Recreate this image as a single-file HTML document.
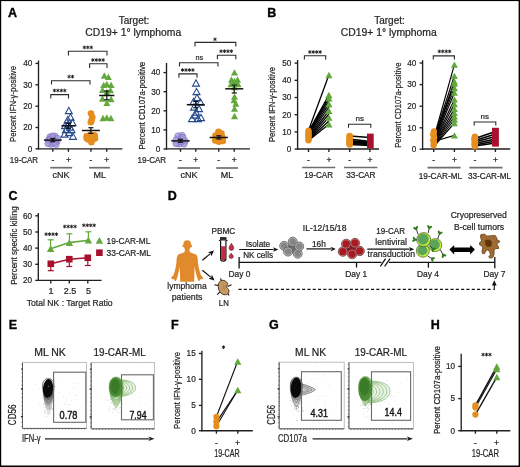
<!DOCTYPE html>
<html><head><meta charset="utf-8"><style>
html,body{margin:0;padding:0;background:#fff;}
svg{display:block;will-change:transform;}
text{font-family:"Liberation Sans", sans-serif;}
</style></head><body>
<svg width="520" height="467" viewBox="0 0 520 467">
<rect x="0" y="0" width="520" height="467" fill="#000"/>
<rect x="1.2" y="1.1" width="517.4" height="464.4" fill="#fff"/>
<text x="8" y="17" font-size="12.5" text-anchor="start" font-weight="bold" fill="#000" stroke="#000" stroke-width="0.35">A</text>
<text x="267.3" y="17" font-size="12.5" text-anchor="start" font-weight="bold" fill="#000" stroke="#000" stroke-width="0.35">B</text>
<text x="8.4" y="200.4" font-size="12.5" text-anchor="start" font-weight="bold" fill="#000" stroke="#000" stroke-width="0.35">C</text>
<text x="167.7" y="200.4" font-size="12.5" text-anchor="start" font-weight="bold" fill="#000" stroke="#000" stroke-width="0.35">D</text>
<text x="8.7" y="329" font-size="12.5" text-anchor="start" font-weight="bold" fill="#000" stroke="#000" stroke-width="0.35">E</text>
<text x="171.0" y="328.8" font-size="12.5" text-anchor="start" font-weight="bold" fill="#000" stroke="#000" stroke-width="0.35">F</text>
<text x="268.9" y="328.8" font-size="12.5" text-anchor="start" font-weight="bold" fill="#000" stroke="#000" stroke-width="0.35">G</text>
<text x="430.8" y="328.8" font-size="12.5" text-anchor="start" font-weight="bold" fill="#000" stroke="#000" stroke-width="0.35">H</text>
<text x="134" y="23.6" font-size="10" text-anchor="middle" font-weight="normal" fill="#231f20"  stroke="#231f20" stroke-width="0.22">Target:</text>
<text transform="translate(133.2,35.6) scale(1.0361,1)" x="0" y="0" font-size="10" text-anchor="middle" font-weight="normal" fill="#231f20"  stroke="#231f20" stroke-width="0.22">CD19+ 1° lymphoma</text>
<text x="389.5" y="23.6" font-size="10" text-anchor="middle" font-weight="normal" fill="#231f20"  stroke="#231f20" stroke-width="0.22">Target:</text>
<text transform="translate(388.7,35.6) scale(1.0361,1)" x="0" y="0" font-size="10" text-anchor="middle" font-weight="normal" fill="#231f20"  stroke="#231f20" stroke-width="0.22">CD19+ 1° lymphoma</text>
<line x1="38.5" y1="60.4" x2="38.5" y2="149.4" stroke="#231f20" stroke-width="1.35" />
<line x1="35.5" y1="63.4" x2="38.5" y2="63.4" stroke="#231f20" stroke-width="1.35" />
<text transform="translate(32.3,66.2) scale(0.9090,1)" x="0" y="0" font-size="9" text-anchor="end" font-weight="normal" fill="#231f20"  stroke="#231f20" stroke-width="0.22">40</text>
<line x1="35.5" y1="84.8" x2="38.5" y2="84.8" stroke="#231f20" stroke-width="1.35" />
<text transform="translate(32.3,87.6) scale(0.9090,1)" x="0" y="0" font-size="9" text-anchor="end" font-weight="normal" fill="#231f20"  stroke="#231f20" stroke-width="0.22">30</text>
<line x1="35.5" y1="106.2" x2="38.5" y2="106.2" stroke="#231f20" stroke-width="1.35" />
<text transform="translate(32.3,109.0) scale(0.9090,1)" x="0" y="0" font-size="9" text-anchor="end" font-weight="normal" fill="#231f20"  stroke="#231f20" stroke-width="0.22">20</text>
<line x1="35.5" y1="127.5" x2="38.5" y2="127.5" stroke="#231f20" stroke-width="1.35" />
<text transform="translate(32.3,130.3) scale(0.9090,1)" x="0" y="0" font-size="9" text-anchor="end" font-weight="normal" fill="#231f20"  stroke="#231f20" stroke-width="0.22">20</text>
<line x1="35.5" y1="148.8" x2="38.5" y2="148.8" stroke="#231f20" stroke-width="1.35" />
<text transform="translate(32.3,151.60000000000002) scale(0.9090,1)" x="0" y="0" font-size="9" text-anchor="end" font-weight="normal" fill="#231f20"  stroke="#231f20" stroke-width="0.22">0</text>
<line x1="37.9" y1="148.8" x2="122.4" y2="148.8" stroke="#231f20" stroke-width="1.35" />
<line x1="52.8" y1="148.8" x2="52.8" y2="151.8" stroke="#231f20" stroke-width="1.35" />
<line x1="68.4" y1="148.8" x2="68.4" y2="151.8" stroke="#231f20" stroke-width="1.35" />
<line x1="90.9" y1="148.8" x2="90.9" y2="151.8" stroke="#231f20" stroke-width="1.35" />
<line x1="106.8" y1="148.8" x2="106.8" y2="151.8" stroke="#231f20" stroke-width="1.35" />
<text x="52.8" y="163.2" font-size="8.5" text-anchor="middle" font-weight="normal" fill="#231f20"  stroke="#231f20" stroke-width="0.22">-</text>
<text x="68.4" y="163.2" font-size="8.5" text-anchor="middle" font-weight="normal" fill="#231f20"  stroke="#231f20" stroke-width="0.22">+</text>
<text x="90.9" y="163.2" font-size="8.5" text-anchor="middle" font-weight="normal" fill="#231f20"  stroke="#231f20" stroke-width="0.22">-</text>
<text x="106.8" y="163.2" font-size="8.5" text-anchor="middle" font-weight="normal" fill="#231f20"  stroke="#231f20" stroke-width="0.22">+</text>
<line x1="50.2" y1="167.7" x2="72.2" y2="167.7" stroke="#6e6e6e" stroke-width="1.7" />
<line x1="89" y1="167.7" x2="109.9" y2="167.7" stroke="#6e6e6e" stroke-width="1.7" />
<text x="61" y="178.1" font-size="9" text-anchor="middle" font-weight="normal" fill="#231f20"  stroke="#231f20" stroke-width="0.22">cNK</text>
<text x="99.7" y="178.1" font-size="9" text-anchor="middle" font-weight="normal" fill="#231f20"  stroke="#231f20" stroke-width="0.22">ML</text>
<text transform="translate(9.8,163.2) scale(0.8841,1)" x="0" y="0" font-size="9" text-anchor="start" font-weight="normal" fill="#231f20"  stroke="#231f20" stroke-width="0.22">19-CAR</text>
<text transform="translate(16,104) rotate(-90) scale(0.8537,1)" x="0" y="0" font-size="9" text-anchor="middle" fill="#231f20" stroke="#231f20" stroke-width="0.22">Percent IFN-γ-positive</text>
<circle cx="50.00" cy="137.00" r="3.2" fill="#a397d8" stroke="#7062bf" stroke-width="0.7" opacity="0.8"/>
<circle cx="55.00" cy="136.20" r="3.2" fill="#a397d8" stroke="#7062bf" stroke-width="0.7" opacity="0.8"/>
<circle cx="48.50" cy="140.50" r="3.2" fill="#a397d8" stroke="#7062bf" stroke-width="0.7" opacity="0.8"/>
<circle cx="53.00" cy="139.50" r="3.2" fill="#a397d8" stroke="#7062bf" stroke-width="0.7" opacity="0.8"/>
<circle cx="57.00" cy="141.50" r="3.2" fill="#a397d8" stroke="#7062bf" stroke-width="0.7" opacity="0.8"/>
<circle cx="51.00" cy="144.20" r="3.2" fill="#a397d8" stroke="#7062bf" stroke-width="0.7" opacity="0.8"/>
<circle cx="56.00" cy="144.50" r="3.2" fill="#a397d8" stroke="#7062bf" stroke-width="0.7" opacity="0.8"/>
<circle cx="48.00" cy="143.50" r="3.2" fill="#a397d8" stroke="#7062bf" stroke-width="0.7" opacity="0.8"/>
<circle cx="54.00" cy="142.50" r="3.2" fill="#a397d8" stroke="#7062bf" stroke-width="0.7" opacity="0.8"/>
<circle cx="50.00" cy="139.00" r="3.2" fill="#a397d8" stroke="#7062bf" stroke-width="0.7" opacity="0.8"/>
<circle cx="57.50" cy="138.50" r="3.2" fill="#a397d8" stroke="#7062bf" stroke-width="0.7" opacity="0.8"/>
<circle cx="52.50" cy="136.00" r="3.2" fill="#a397d8" stroke="#7062bf" stroke-width="0.7" opacity="0.8"/>
<path d="M65.30,113.65 L68.80,107.35 L72.30,113.65 Z" fill="none" stroke="#264a8c" stroke-width="1.1" stroke-linejoin="miter"/>
<path d="M67.00,120.15 L70.50,113.85 L74.00,120.15 Z" fill="none" stroke="#264a8c" stroke-width="1.1" stroke-linejoin="miter"/>
<path d="M64.30,122.65 L67.80,116.35 L71.30,122.65 Z" fill="none" stroke="#264a8c" stroke-width="1.1" stroke-linejoin="miter"/>
<path d="M64.70,127.15 L68.20,120.85 L71.70,127.15 Z" fill="none" stroke="#264a8c" stroke-width="1.1" stroke-linejoin="miter"/>
<path d="M62.50,132.65 L66.00,126.35 L69.50,132.65 Z" fill="none" stroke="#264a8c" stroke-width="1.1" stroke-linejoin="miter"/>
<path d="M68.00,132.65 L71.50,126.35 L75.00,132.65 Z" fill="none" stroke="#264a8c" stroke-width="1.1" stroke-linejoin="miter"/>
<path d="M69.50,139.35 L73.00,133.05 L76.50,139.35 Z" fill="none" stroke="#264a8c" stroke-width="1.1" stroke-linejoin="miter"/>
<path d="M61.00,137.15 L64.50,130.85 L68.00,137.15 Z" fill="none" stroke="#264a8c" stroke-width="1.1" stroke-linejoin="miter"/>
<path d="M65.50,135.65 L69.00,129.35 L72.50,135.65 Z" fill="none" stroke="#264a8c" stroke-width="1.1" stroke-linejoin="miter"/>
<path d="M69.00,125.65 L72.50,119.35 L76.00,125.65 Z" fill="none" stroke="#264a8c" stroke-width="1.1" stroke-linejoin="miter"/>
<path d="M61.50,128.65 L65.00,122.35 L68.50,128.65 Z" fill="none" stroke="#264a8c" stroke-width="1.1" stroke-linejoin="miter"/>
<path d="M66.50,130.15 L70.00,123.85 L73.50,130.15 Z" fill="none" stroke="#264a8c" stroke-width="1.1" stroke-linejoin="miter"/>
<circle cx="91.00" cy="113.60" r="3.3" fill="#e58e1e" stroke="none" stroke-width="0" opacity="1"/>
<circle cx="92.30" cy="117.30" r="3.3" fill="#e58e1e" stroke="none" stroke-width="0" opacity="1"/>
<circle cx="91.60" cy="120.20" r="3.3" fill="#e58e1e" stroke="none" stroke-width="0" opacity="1"/>
<circle cx="90.80" cy="122.30" r="3.3" fill="#e58e1e" stroke="none" stroke-width="0" opacity="1"/>
<circle cx="86.60" cy="136.40" r="3.3" fill="#e58e1e" stroke="none" stroke-width="0" opacity="1"/>
<circle cx="90.20" cy="134.80" r="3.3" fill="#e58e1e" stroke="none" stroke-width="0" opacity="1"/>
<circle cx="94.60" cy="135.20" r="3.3" fill="#e58e1e" stroke="none" stroke-width="0" opacity="1"/>
<circle cx="88.20" cy="139.40" r="3.3" fill="#e58e1e" stroke="none" stroke-width="0" opacity="1"/>
<circle cx="92.00" cy="139.80" r="3.3" fill="#e58e1e" stroke="none" stroke-width="0" opacity="1"/>
<circle cx="95.00" cy="138.60" r="3.3" fill="#e58e1e" stroke="none" stroke-width="0" opacity="1"/>
<circle cx="91.40" cy="142.20" r="3.3" fill="#e58e1e" stroke="none" stroke-width="0" opacity="1"/>
<circle cx="86.80" cy="138.50" r="3.3" fill="#e58e1e" stroke="none" stroke-width="0" opacity="1"/>
<path d="M100.80,78.65 L104.30,72.35 L107.80,78.65 Z" fill="#62a83c"/>
<path d="M104.90,79.95 L108.40,73.65 L111.90,79.95 Z" fill="#62a83c"/>
<path d="M100.20,87.95 L103.70,81.65 L107.20,87.95 Z" fill="#62a83c"/>
<path d="M103.30,87.15 L106.80,80.85 L110.30,87.15 Z" fill="#62a83c"/>
<path d="M107.60,87.95 L111.10,81.65 L114.60,87.95 Z" fill="#62a83c"/>
<path d="M99.00,92.95 L102.50,86.65 L106.00,92.95 Z" fill="#62a83c"/>
<path d="M107.00,93.35 L110.50,87.05 L114.00,93.35 Z" fill="#62a83c"/>
<path d="M103.30,95.15 L106.80,88.85 L110.30,95.15 Z" fill="#62a83c"/>
<path d="M99.00,101.65 L102.50,95.35 L106.00,101.65 Z" fill="#62a83c"/>
<path d="M107.60,102.15 L111.10,95.85 L114.60,102.15 Z" fill="#62a83c"/>
<path d="M103.30,105.95 L106.80,99.65 L110.30,105.95 Z" fill="#62a83c"/>
<path d="M99.50,121.15 L103.00,114.85 L106.50,121.15 Z" fill="#62a83c"/>
<path d="M103.30,120.65 L106.80,114.35 L110.30,120.65 Z" fill="#62a83c"/>
<path d="M107.40,121.15 L110.90,114.85 L114.40,121.15 Z" fill="#62a83c"/>
<line x1="43.9" y1="140.1" x2="61.699999999999996" y2="140.1" stroke="#111" stroke-width="1.5" />
<line x1="52.8" y1="138.5" x2="52.8" y2="141.7" stroke="#111" stroke-width="1.2" />
<line x1="50.3" y1="138.5" x2="55.3" y2="138.5" stroke="#111" stroke-width="1.2" />
<line x1="50.3" y1="141.7" x2="55.3" y2="141.7" stroke="#111" stroke-width="1.2" />
<line x1="61.400000000000006" y1="125.8" x2="75.4" y2="125.8" stroke="#111" stroke-width="1.5" />
<line x1="68.4" y1="123.3" x2="68.4" y2="128.3" stroke="#111" stroke-width="1.2" />
<line x1="65.9" y1="123.3" x2="70.9" y2="123.3" stroke="#111" stroke-width="1.2" />
<line x1="65.9" y1="128.3" x2="70.9" y2="128.3" stroke="#111" stroke-width="1.2" />
<line x1="81.9" y1="130.5" x2="99.9" y2="130.5" stroke="#111" stroke-width="1.5" />
<line x1="90.9" y1="127.7" x2="90.9" y2="133.4" stroke="#111" stroke-width="1.2" />
<line x1="88.4" y1="127.7" x2="93.4" y2="127.7" stroke="#111" stroke-width="1.2" />
<line x1="88.4" y1="133.4" x2="93.4" y2="133.4" stroke="#111" stroke-width="1.2" />
<line x1="99.2" y1="95.5" x2="114.39999999999999" y2="95.5" stroke="#111" stroke-width="1.5" />
<line x1="106.8" y1="91" x2="106.8" y2="99.8" stroke="#111" stroke-width="1.2" />
<line x1="104.3" y1="91" x2="109.3" y2="91" stroke="#111" stroke-width="1.2" />
<line x1="104.3" y1="99.8" x2="109.3" y2="99.8" stroke="#111" stroke-width="1.2" />
<path d="M68.4,55.4 V51.2 H107 V55.4" fill="none" stroke="#2b2b2b" stroke-width="1.1" />
<path d="M84.35,45.60 L84.35,49.20 M82.79,46.50 L85.91,48.30 M85.91,46.50 L82.79,48.30 " stroke="#231f20" stroke-width="0.95" fill="none"/>
<path d="M87.80,45.60 L87.80,49.20 M86.24,46.50 L89.36,48.30 M89.36,46.50 L86.24,48.30 " stroke="#231f20" stroke-width="0.95" fill="none"/>
<path d="M91.25,45.60 L91.25,49.20 M89.69,46.50 L92.81,48.30 M92.81,46.50 L89.69,48.30 " stroke="#231f20" stroke-width="0.95" fill="none"/>
<path d="M89.6,68 V63.8 H107 V68" fill="none" stroke="#2b2b2b" stroke-width="1.1" />
<path d="M92.83,58.20 L92.83,61.80 M91.27,59.10 L94.38,60.90 M94.38,59.10 L91.27,60.90 " stroke="#231f20" stroke-width="0.95" fill="none"/>
<path d="M96.28,58.20 L96.28,61.80 M94.72,59.10 L97.83,60.90 M97.83,59.10 L94.72,60.90 " stroke="#231f20" stroke-width="0.95" fill="none"/>
<path d="M99.73,58.20 L99.73,61.80 M98.17,59.10 L101.28,60.90 M101.28,59.10 L98.17,60.90 " stroke="#231f20" stroke-width="0.95" fill="none"/>
<path d="M103.18,58.20 L103.18,61.80 M101.62,59.10 L104.73,60.90 M104.73,59.10 L101.62,60.90 " stroke="#231f20" stroke-width="0.95" fill="none"/>
<path d="M51.5,84.6 V80.8 H90 V84.6" fill="none" stroke="#2b2b2b" stroke-width="1.1" />
<path d="M69.08,74.80 L69.08,78.40 M67.52,75.70 L70.63,77.50 M70.63,75.70 L67.52,77.50 " stroke="#231f20" stroke-width="0.95" fill="none"/>
<path d="M72.53,74.80 L72.53,78.40 M70.97,75.70 L74.08,77.50 M74.08,75.70 L70.97,77.50 " stroke="#231f20" stroke-width="0.95" fill="none"/>
<path d="M50.8,98.6 V94.6 H68.5 V98.6" fill="none" stroke="#2b2b2b" stroke-width="1.1" />
<path d="M54.42,88.70 L54.42,92.30 M52.87,89.60 L55.98,91.40 M55.98,89.60 L52.87,91.40 " stroke="#231f20" stroke-width="0.95" fill="none"/>
<path d="M57.88,88.70 L57.88,92.30 M56.32,89.60 L59.43,91.40 M59.43,89.60 L56.32,91.40 " stroke="#231f20" stroke-width="0.95" fill="none"/>
<path d="M61.32,88.70 L61.32,92.30 M59.77,89.60 L62.88,91.40 M62.88,89.60 L59.77,91.40 " stroke="#231f20" stroke-width="0.95" fill="none"/>
<path d="M64.78,88.70 L64.78,92.30 M63.22,89.60 L66.33,91.40 M66.33,89.60 L63.22,91.40 " stroke="#231f20" stroke-width="0.95" fill="none"/>
<line x1="166.5" y1="63" x2="166.5" y2="149.6" stroke="#231f20" stroke-width="1.35" />
<line x1="163.5" y1="72.6" x2="166.5" y2="72.6" stroke="#231f20" stroke-width="1.35" />
<text transform="translate(160.3,75.39999999999999) scale(0.9090,1)" x="0" y="0" font-size="9" text-anchor="end" font-weight="normal" fill="#231f20"  stroke="#231f20" stroke-width="0.22">40</text>
<line x1="163.5" y1="91.7" x2="166.5" y2="91.7" stroke="#231f20" stroke-width="1.35" />
<text transform="translate(160.3,94.5) scale(0.9090,1)" x="0" y="0" font-size="9" text-anchor="end" font-weight="normal" fill="#231f20"  stroke="#231f20" stroke-width="0.22">30</text>
<line x1="163.5" y1="110.8" x2="166.5" y2="110.8" stroke="#231f20" stroke-width="1.35" />
<text transform="translate(160.3,113.6) scale(0.9090,1)" x="0" y="0" font-size="9" text-anchor="end" font-weight="normal" fill="#231f20"  stroke="#231f20" stroke-width="0.22">20</text>
<line x1="163.5" y1="129.9" x2="166.5" y2="129.9" stroke="#231f20" stroke-width="1.35" />
<text transform="translate(160.3,132.70000000000002) scale(0.9090,1)" x="0" y="0" font-size="9" text-anchor="end" font-weight="normal" fill="#231f20"  stroke="#231f20" stroke-width="0.22">10</text>
<line x1="163.5" y1="149" x2="166.5" y2="149" stroke="#231f20" stroke-width="1.35" />
<text transform="translate(160.3,151.8) scale(0.9090,1)" x="0" y="0" font-size="9" text-anchor="end" font-weight="normal" fill="#231f20"  stroke="#231f20" stroke-width="0.22">0</text>
<line x1="165.9" y1="148.8" x2="250" y2="148.8" stroke="#231f20" stroke-width="1.35" />
<line x1="180.5" y1="148.8" x2="180.5" y2="151.8" stroke="#231f20" stroke-width="1.35" />
<line x1="195.75" y1="148.8" x2="195.75" y2="151.8" stroke="#231f20" stroke-width="1.35" />
<line x1="218.75" y1="148.8" x2="218.75" y2="151.8" stroke="#231f20" stroke-width="1.35" />
<line x1="234.25" y1="148.8" x2="234.25" y2="151.8" stroke="#231f20" stroke-width="1.35" />
<text x="180.5" y="162.5" font-size="8.5" text-anchor="middle" font-weight="normal" fill="#231f20"  stroke="#231f20" stroke-width="0.22">-</text>
<text x="195.75" y="162.5" font-size="8.5" text-anchor="middle" font-weight="normal" fill="#231f20"  stroke="#231f20" stroke-width="0.22">+</text>
<text x="218.75" y="162.5" font-size="8.5" text-anchor="middle" font-weight="normal" fill="#231f20"  stroke="#231f20" stroke-width="0.22">-</text>
<text x="234.25" y="162.5" font-size="8.5" text-anchor="middle" font-weight="normal" fill="#231f20"  stroke="#231f20" stroke-width="0.22">+</text>
<line x1="177.5" y1="168" x2="200" y2="168" stroke="#6e6e6e" stroke-width="1.7" />
<line x1="216.25" y1="168" x2="238" y2="168" stroke="#6e6e6e" stroke-width="1.7" />
<text x="189" y="178.1" font-size="9" text-anchor="middle" font-weight="normal" fill="#231f20"  stroke="#231f20" stroke-width="0.22">cNK</text>
<text x="227" y="178.1" font-size="9" text-anchor="middle" font-weight="normal" fill="#231f20"  stroke="#231f20" stroke-width="0.22">ML</text>
<text transform="translate(137.5,162.5) scale(0.8966,1)" x="0" y="0" font-size="9" text-anchor="start" font-weight="normal" fill="#231f20"  stroke="#231f20" stroke-width="0.22">19-CAR</text>
<text transform="translate(145,105.6) rotate(-90) scale(0.8775,1)" x="0" y="0" font-size="9" text-anchor="middle" fill="#231f20" stroke="#231f20" stroke-width="0.22">Percent CD107a-positive</text>
<circle cx="178.00" cy="136.00" r="3.2" fill="#a397d8" stroke="#7062bf" stroke-width="0.7" opacity="0.8"/>
<circle cx="182.00" cy="135.50" r="3.2" fill="#a397d8" stroke="#7062bf" stroke-width="0.7" opacity="0.8"/>
<circle cx="176.00" cy="140.00" r="3.2" fill="#a397d8" stroke="#7062bf" stroke-width="0.7" opacity="0.8"/>
<circle cx="181.00" cy="139.00" r="3.2" fill="#a397d8" stroke="#7062bf" stroke-width="0.7" opacity="0.8"/>
<circle cx="185.00" cy="141.00" r="3.2" fill="#a397d8" stroke="#7062bf" stroke-width="0.7" opacity="0.8"/>
<circle cx="179.00" cy="144.00" r="3.2" fill="#a397d8" stroke="#7062bf" stroke-width="0.7" opacity="0.8"/>
<circle cx="184.00" cy="144.00" r="3.2" fill="#a397d8" stroke="#7062bf" stroke-width="0.7" opacity="0.8"/>
<circle cx="176.00" cy="143.50" r="3.2" fill="#a397d8" stroke="#7062bf" stroke-width="0.7" opacity="0.8"/>
<circle cx="181.00" cy="142.00" r="3.2" fill="#a397d8" stroke="#7062bf" stroke-width="0.7" opacity="0.8"/>
<circle cx="183.00" cy="137.50" r="3.2" fill="#a397d8" stroke="#7062bf" stroke-width="0.7" opacity="0.8"/>
<path d="M192.50,86.15 L196.00,79.85 L199.50,86.15 Z" fill="none" stroke="#264a8c" stroke-width="1.1" stroke-linejoin="miter"/>
<path d="M193.00,94.65 L196.50,88.35 L200.00,94.65 Z" fill="none" stroke="#264a8c" stroke-width="1.1" stroke-linejoin="miter"/>
<path d="M193.50,100.65 L197.00,94.35 L200.50,100.65 Z" fill="none" stroke="#264a8c" stroke-width="1.1" stroke-linejoin="miter"/>
<path d="M190.00,104.65 L193.50,98.35 L197.00,104.65 Z" fill="none" stroke="#264a8c" stroke-width="1.1" stroke-linejoin="miter"/>
<path d="M197.00,105.15 L200.50,98.85 L204.00,105.15 Z" fill="none" stroke="#264a8c" stroke-width="1.1" stroke-linejoin="miter"/>
<path d="M190.50,110.15 L194.00,103.85 L197.50,110.15 Z" fill="none" stroke="#264a8c" stroke-width="1.1" stroke-linejoin="miter"/>
<path d="M195.50,111.65 L199.00,105.35 L202.50,111.65 Z" fill="none" stroke="#264a8c" stroke-width="1.1" stroke-linejoin="miter"/>
<path d="M192.50,115.15 L196.00,108.85 L199.50,115.15 Z" fill="none" stroke="#264a8c" stroke-width="1.1" stroke-linejoin="miter"/>
<path d="M188.50,121.65 L192.00,115.35 L195.50,121.65 Z" fill="none" stroke="#264a8c" stroke-width="1.1" stroke-linejoin="miter"/>
<path d="M194.50,121.65 L198.00,115.35 L201.50,121.65 Z" fill="none" stroke="#264a8c" stroke-width="1.1" stroke-linejoin="miter"/>
<path d="M197.50,120.65 L201.00,114.35 L204.50,120.65 Z" fill="none" stroke="#264a8c" stroke-width="1.1" stroke-linejoin="miter"/>
<path d="M191.50,118.15 L195.00,111.85 L198.50,118.15 Z" fill="none" stroke="#264a8c" stroke-width="1.1" stroke-linejoin="miter"/>
<circle cx="218.50" cy="131.80" r="3.3" fill="#e58e1e" stroke="none" stroke-width="0" opacity="1"/>
<circle cx="221.50" cy="133.50" r="3.3" fill="#e58e1e" stroke="none" stroke-width="0" opacity="1"/>
<circle cx="215.50" cy="135.50" r="3.3" fill="#e58e1e" stroke="none" stroke-width="0" opacity="1"/>
<circle cx="222.50" cy="137.50" r="3.3" fill="#e58e1e" stroke="none" stroke-width="0" opacity="1"/>
<circle cx="215.20" cy="140.50" r="3.3" fill="#e58e1e" stroke="none" stroke-width="0" opacity="1"/>
<circle cx="218.80" cy="141.80" r="3.3" fill="#e58e1e" stroke="none" stroke-width="0" opacity="1"/>
<circle cx="222.80" cy="141.00" r="3.3" fill="#e58e1e" stroke="none" stroke-width="0" opacity="1"/>
<circle cx="218.50" cy="137.00" r="3.3" fill="#e58e1e" stroke="none" stroke-width="0" opacity="1"/>
<path d="M231.00,75.55 L234.50,69.25 L238.00,75.55 Z" fill="#62a83c"/>
<path d="M228.00,82.65 L231.50,76.35 L235.00,82.65 Z" fill="#62a83c"/>
<path d="M234.00,82.65 L237.50,76.35 L241.00,82.65 Z" fill="#62a83c"/>
<path d="M231.00,84.15 L234.50,77.85 L238.00,84.15 Z" fill="#62a83c"/>
<path d="M227.50,87.15 L231.00,80.85 L234.50,87.15 Z" fill="#62a83c"/>
<path d="M234.50,87.15 L238.00,80.85 L241.50,87.15 Z" fill="#62a83c"/>
<path d="M231.00,90.15 L234.50,83.85 L238.00,90.15 Z" fill="#62a83c"/>
<path d="M231.00,99.65 L234.50,93.35 L238.00,99.65 Z" fill="#62a83c"/>
<path d="M230.50,103.15 L234.00,96.85 L237.50,103.15 Z" fill="#62a83c"/>
<path d="M232.30,106.65 L235.80,100.35 L239.30,106.65 Z" fill="#62a83c"/>
<path d="M231.00,111.65 L234.50,105.35 L238.00,111.65 Z" fill="#62a83c"/>
<path d="M231.00,119.15 L234.50,112.85 L238.00,119.15 Z" fill="#62a83c"/>
<line x1="171.3" y1="140.9" x2="189.7" y2="140.9" stroke="#111" stroke-width="1.5" />
<line x1="180.5" y1="139.3" x2="180.5" y2="142.3" stroke="#111" stroke-width="1.2" />
<line x1="178.0" y1="139.3" x2="183.0" y2="139.3" stroke="#111" stroke-width="1.2" />
<line x1="178.0" y1="142.3" x2="183.0" y2="142.3" stroke="#111" stroke-width="1.2" />
<line x1="186.75" y1="104.7" x2="204.75" y2="104.7" stroke="#111" stroke-width="1.5" />
<line x1="195.75" y1="101.5" x2="195.75" y2="107.8" stroke="#111" stroke-width="1.2" />
<line x1="193.25" y1="101.5" x2="198.25" y2="101.5" stroke="#111" stroke-width="1.2" />
<line x1="193.25" y1="107.8" x2="198.25" y2="107.8" stroke="#111" stroke-width="1.2" />
<line x1="209.65" y1="137.5" x2="227.85" y2="137.5" stroke="#111" stroke-width="1.5" />
<line x1="218.75" y1="135.8" x2="218.75" y2="139" stroke="#111" stroke-width="1.2" />
<line x1="216.25" y1="135.8" x2="221.25" y2="135.8" stroke="#111" stroke-width="1.2" />
<line x1="216.25" y1="139" x2="221.25" y2="139" stroke="#111" stroke-width="1.2" />
<line x1="225.25" y1="88.8" x2="243.25" y2="88.8" stroke="#111" stroke-width="1.5" />
<line x1="234.25" y1="85" x2="234.25" y2="93" stroke="#111" stroke-width="1.2" />
<line x1="231.75" y1="85" x2="236.75" y2="85" stroke="#111" stroke-width="1.2" />
<line x1="231.75" y1="93" x2="236.75" y2="93" stroke="#111" stroke-width="1.2" />
<path d="M195,46.5 V42.4 H235.8 V46.5" fill="none" stroke="#2b2b2b" stroke-width="1.1" />
<path d="M215.00,37.50 L215.00,41.10 M213.44,38.40 L216.56,40.20 M216.56,38.40 L213.44,40.20 " stroke="#231f20" stroke-width="0.95" fill="none"/>
<path d="M217.4,59.3 V55.3 H235.8 V59.3" fill="none" stroke="#2b2b2b" stroke-width="1.1" />
<path d="M221.02,49.40 L221.02,53.00 M219.47,50.30 L222.58,52.10 M222.58,50.30 L219.47,52.10 " stroke="#231f20" stroke-width="0.95" fill="none"/>
<path d="M224.47,49.40 L224.47,53.00 M222.92,50.30 L226.03,52.10 M226.03,50.30 L222.92,52.10 " stroke="#231f20" stroke-width="0.95" fill="none"/>
<path d="M227.92,49.40 L227.92,53.00 M226.37,50.30 L229.48,52.10 M229.48,50.30 L226.37,52.10 " stroke="#231f20" stroke-width="0.95" fill="none"/>
<path d="M231.37,49.40 L231.37,53.00 M229.82,50.30 L232.93,52.10 M232.93,50.30 L229.82,52.10 " stroke="#231f20" stroke-width="0.95" fill="none"/>
<path d="M179.5,66.5 V62.7 H218 V66.5" fill="none" stroke="#2b2b2b" stroke-width="1.1" />
<text transform="translate(199.2,59.9) scale(0.8995,1)" x="0" y="0" font-size="8" text-anchor="middle" font-weight="normal" fill="#231f20"  stroke="#231f20" stroke-width="0.22">ns</text>
<path d="M178.9,77.8 V73.9 H197 V77.8" fill="none" stroke="#2b2b2b" stroke-width="1.1" />
<path d="M182.52,68.20 L182.52,71.80 M180.97,69.10 L184.08,70.90 M184.08,69.10 L180.97,70.90 " stroke="#231f20" stroke-width="0.95" fill="none"/>
<path d="M185.97,68.20 L185.97,71.80 M184.42,69.10 L187.53,70.90 M187.53,69.10 L184.42,70.90 " stroke="#231f20" stroke-width="0.95" fill="none"/>
<path d="M189.42,68.20 L189.42,71.80 M187.87,69.10 L190.98,70.90 M190.98,69.10 L187.87,70.90 " stroke="#231f20" stroke-width="0.95" fill="none"/>
<path d="M192.87,68.20 L192.87,71.80 M191.32,69.10 L194.43,70.90 M194.43,69.10 L191.32,70.90 " stroke="#231f20" stroke-width="0.95" fill="none"/>
<line x1="297.6" y1="60" x2="297.6" y2="149.7" stroke="#231f20" stroke-width="1.35" />
<line x1="294.6" y1="63.1" x2="297.6" y2="63.1" stroke="#231f20" stroke-width="1.35" />
<text transform="translate(291.40000000000003,65.9) scale(0.9090,1)" x="0" y="0" font-size="9" text-anchor="end" font-weight="normal" fill="#231f20"  stroke="#231f20" stroke-width="0.22">50</text>
<line x1="294.6" y1="80.3" x2="297.6" y2="80.3" stroke="#231f20" stroke-width="1.35" />
<text transform="translate(291.40000000000003,83.1) scale(0.9090,1)" x="0" y="0" font-size="9" text-anchor="end" font-weight="normal" fill="#231f20"  stroke="#231f20" stroke-width="0.22">40</text>
<line x1="294.6" y1="97.5" x2="297.6" y2="97.5" stroke="#231f20" stroke-width="1.35" />
<text transform="translate(291.40000000000003,100.3) scale(0.9090,1)" x="0" y="0" font-size="9" text-anchor="end" font-weight="normal" fill="#231f20"  stroke="#231f20" stroke-width="0.22">30</text>
<line x1="294.6" y1="114.7" x2="297.6" y2="114.7" stroke="#231f20" stroke-width="1.35" />
<text transform="translate(291.40000000000003,117.5) scale(0.9090,1)" x="0" y="0" font-size="9" text-anchor="end" font-weight="normal" fill="#231f20"  stroke="#231f20" stroke-width="0.22">20</text>
<line x1="294.6" y1="131.9" x2="297.6" y2="131.9" stroke="#231f20" stroke-width="1.35" />
<text transform="translate(291.40000000000003,134.70000000000002) scale(0.9090,1)" x="0" y="0" font-size="9" text-anchor="end" font-weight="normal" fill="#231f20"  stroke="#231f20" stroke-width="0.22">10</text>
<line x1="294.6" y1="149.1" x2="297.6" y2="149.1" stroke="#231f20" stroke-width="1.35" />
<text transform="translate(291.40000000000003,151.9) scale(0.9090,1)" x="0" y="0" font-size="9" text-anchor="end" font-weight="normal" fill="#231f20"  stroke="#231f20" stroke-width="0.22">0</text>
<line x1="297.0" y1="149" x2="379" y2="149" stroke="#231f20" stroke-width="1.35" />
<line x1="308.5" y1="149" x2="308.5" y2="152" stroke="#231f20" stroke-width="1.35" />
<line x1="328.9" y1="149" x2="328.9" y2="152" stroke="#231f20" stroke-width="1.35" />
<line x1="349.7" y1="149" x2="349.7" y2="152" stroke="#231f20" stroke-width="1.35" />
<line x1="369.9" y1="149" x2="369.9" y2="152" stroke="#231f20" stroke-width="1.35" />
<text x="308.5" y="162.6" font-size="8.5" text-anchor="middle" font-weight="normal" fill="#231f20"  stroke="#231f20" stroke-width="0.22">-</text>
<text x="328.9" y="162.6" font-size="8.5" text-anchor="middle" font-weight="normal" fill="#231f20"  stroke="#231f20" stroke-width="0.22">+</text>
<text x="349.7" y="162.6" font-size="8.5" text-anchor="middle" font-weight="normal" fill="#231f20"  stroke="#231f20" stroke-width="0.22">-</text>
<text x="369.9" y="162.6" font-size="8.5" text-anchor="middle" font-weight="normal" fill="#231f20"  stroke="#231f20" stroke-width="0.22">+</text>
<line x1="302.1" y1="167.5" x2="335.3" y2="167.5" stroke="#6e6e6e" stroke-width="1.7" />
<line x1="344" y1="167.5" x2="377.4" y2="167.5" stroke="#6e6e6e" stroke-width="1.7" />
<text transform="translate(318.7,177.9) scale(0.9059,1)" x="0" y="0" font-size="9" text-anchor="middle" font-weight="normal" fill="#231f20"  stroke="#231f20" stroke-width="0.22">19-CAR</text>
<text transform="translate(360.9,177.9) scale(0.9184,1)" x="0" y="0" font-size="9" text-anchor="middle" font-weight="normal" fill="#231f20"  stroke="#231f20" stroke-width="0.22">33-CAR</text>
<text transform="translate(274.5,104.5) rotate(-90) scale(0.8424,1)" x="0" y="0" font-size="9" text-anchor="middle" fill="#231f20" stroke="#231f20" stroke-width="0.22">Percent IFN-γ-positive</text>
<path d="M304.4,59.6 V55.8 H325.7 V59.6" fill="none" stroke="#2b2b2b" stroke-width="1.1" />
<path d="M309.82,50.20 L309.82,53.80 M308.27,51.10 L311.38,52.90 M311.38,51.10 L308.27,52.90 " stroke="#231f20" stroke-width="0.95" fill="none"/>
<path d="M313.27,50.20 L313.27,53.80 M311.72,51.10 L314.83,52.90 M314.83,51.10 L311.72,52.90 " stroke="#231f20" stroke-width="0.95" fill="none"/>
<path d="M316.72,50.20 L316.72,53.80 M315.17,51.10 L318.28,52.90 M318.28,51.10 L315.17,52.90 " stroke="#231f20" stroke-width="0.95" fill="none"/>
<path d="M320.18,50.20 L320.18,53.80 M318.62,51.10 L321.73,52.90 M321.73,51.10 L318.62,52.90 " stroke="#231f20" stroke-width="0.95" fill="none"/>
<path d="M348.5,127.8 V124.3 H370.8 V127.8" fill="none" stroke="#2b2b2b" stroke-width="1.1" />
<text x="359.7" y="120.8" font-size="8" text-anchor="middle" font-weight="normal" fill="#231f20"  stroke="#231f20" stroke-width="0.22">ns</text>
<line x1="308.5" y1="130.5" x2="328.9" y2="75" stroke="#000" stroke-width="1.3" />
<line x1="308.5" y1="131.5" x2="328.9" y2="95" stroke="#000" stroke-width="1.3" />
<line x1="308.5" y1="132.5" x2="328.9" y2="96.5" stroke="#000" stroke-width="1.3" />
<line x1="308.5" y1="133.5" x2="328.9" y2="98.3" stroke="#000" stroke-width="1.3" />
<line x1="308.5" y1="134.5" x2="328.9" y2="101" stroke="#000" stroke-width="1.3" />
<line x1="308.5" y1="135.5" x2="328.9" y2="103.9" stroke="#000" stroke-width="1.3" />
<line x1="308.5" y1="136.5" x2="328.9" y2="107" stroke="#000" stroke-width="1.3" />
<line x1="308.5" y1="137.5" x2="328.9" y2="110.7" stroke="#000" stroke-width="1.3" />
<line x1="308.5" y1="138.5" x2="328.9" y2="114" stroke="#000" stroke-width="1.3" />
<line x1="308.5" y1="139.5" x2="328.9" y2="117.4" stroke="#000" stroke-width="1.3" />
<line x1="308.5" y1="140" x2="328.9" y2="121" stroke="#000" stroke-width="1.3" />
<line x1="308.5" y1="140.5" x2="328.9" y2="124.2" stroke="#000" stroke-width="1.3" />
<circle cx="308.50" cy="130.50" r="3.0" fill="#e58e1e" stroke="none" stroke-width="0" opacity="1"/>
<circle cx="308.50" cy="131.50" r="3.0" fill="#e58e1e" stroke="none" stroke-width="0" opacity="1"/>
<circle cx="308.50" cy="132.50" r="3.0" fill="#e58e1e" stroke="none" stroke-width="0" opacity="1"/>
<circle cx="308.50" cy="133.50" r="3.0" fill="#e58e1e" stroke="none" stroke-width="0" opacity="1"/>
<circle cx="308.50" cy="134.50" r="3.0" fill="#e58e1e" stroke="none" stroke-width="0" opacity="1"/>
<circle cx="308.50" cy="135.50" r="3.0" fill="#e58e1e" stroke="none" stroke-width="0" opacity="1"/>
<circle cx="308.50" cy="136.50" r="3.0" fill="#e58e1e" stroke="none" stroke-width="0" opacity="1"/>
<circle cx="308.50" cy="137.50" r="3.0" fill="#e58e1e" stroke="none" stroke-width="0" opacity="1"/>
<circle cx="308.50" cy="138.50" r="3.0" fill="#e58e1e" stroke="none" stroke-width="0" opacity="1"/>
<circle cx="308.50" cy="139.50" r="3.0" fill="#e58e1e" stroke="none" stroke-width="0" opacity="1"/>
<circle cx="308.50" cy="140.00" r="3.0" fill="#e58e1e" stroke="none" stroke-width="0" opacity="1"/>
<circle cx="308.50" cy="140.50" r="3.0" fill="#e58e1e" stroke="none" stroke-width="0" opacity="1"/>
<path d="M325.30,98.24 L328.90,91.76 L332.50,98.24 Z" fill="#62a83c"/>
<path d="M325.30,101.54 L328.90,95.06 L332.50,101.54 Z" fill="#62a83c"/>
<path d="M325.30,107.14 L328.90,100.66 L332.50,107.14 Z" fill="#62a83c"/>
<path d="M325.30,113.94 L328.90,107.46 L332.50,113.94 Z" fill="#62a83c"/>
<path d="M325.30,120.64 L328.90,114.16 L332.50,120.64 Z" fill="#62a83c"/>
<path d="M325.30,127.44 L328.90,120.96 L332.50,127.44 Z" fill="#62a83c"/>
<path d="M325.30,78.24 L328.90,71.76 L332.50,78.24 Z" fill="#62a83c"/>
<line x1="349.7" y1="136" x2="369.9" y2="137.5" stroke="#000" stroke-width="1.5" />
<line x1="349.7" y1="139" x2="369.9" y2="141.5" stroke="#000" stroke-width="1.5" />
<line x1="349.7" y1="140.5" x2="369.9" y2="142.5" stroke="#000" stroke-width="1.5" />
<line x1="349.7" y1="141.5" x2="369.9" y2="143" stroke="#000" stroke-width="1.5" />
<line x1="349.7" y1="142.5" x2="369.9" y2="143.8" stroke="#000" stroke-width="1.5" />
<line x1="349.7" y1="143.5" x2="369.9" y2="144.5" stroke="#000" stroke-width="1.5" />
<line x1="349.7" y1="144.5" x2="369.9" y2="145.5" stroke="#000" stroke-width="1.5" />
<circle cx="349.70" cy="136.00" r="3.2" fill="#e58e1e" stroke="none" stroke-width="0" opacity="1"/>
<circle cx="349.70" cy="139.00" r="3.2" fill="#e58e1e" stroke="none" stroke-width="0" opacity="1"/>
<circle cx="349.70" cy="140.50" r="3.2" fill="#e58e1e" stroke="none" stroke-width="0" opacity="1"/>
<circle cx="349.70" cy="141.50" r="3.2" fill="#e58e1e" stroke="none" stroke-width="0" opacity="1"/>
<circle cx="349.70" cy="142.50" r="3.2" fill="#e58e1e" stroke="none" stroke-width="0" opacity="1"/>
<circle cx="349.70" cy="143.50" r="3.2" fill="#e58e1e" stroke="none" stroke-width="0" opacity="1"/>
<circle cx="349.70" cy="144.50" r="3.2" fill="#e58e1e" stroke="none" stroke-width="0" opacity="1"/>
<rect x="367" y="133.6" width="6.7" height="14.8" fill="#a8112e"/>
<rect x="346.4" y="134.5" width="6.6" height="11" fill="#e58e1e"/>
<line x1="422.6" y1="60.2" x2="422.6" y2="149.79999999999998" stroke="#231f20" stroke-width="1.35" />
<line x1="419.6" y1="63" x2="422.6" y2="63" stroke="#231f20" stroke-width="1.35" />
<text transform="translate(416.40000000000003,65.8) scale(0.9090,1)" x="0" y="0" font-size="9" text-anchor="end" font-weight="normal" fill="#231f20"  stroke="#231f20" stroke-width="0.22">40</text>
<line x1="419.6" y1="84.6" x2="422.6" y2="84.6" stroke="#231f20" stroke-width="1.35" />
<text transform="translate(416.40000000000003,87.39999999999999) scale(0.9090,1)" x="0" y="0" font-size="9" text-anchor="end" font-weight="normal" fill="#231f20"  stroke="#231f20" stroke-width="0.22">30</text>
<line x1="419.6" y1="106.2" x2="422.6" y2="106.2" stroke="#231f20" stroke-width="1.35" />
<text transform="translate(416.40000000000003,109.0) scale(0.9090,1)" x="0" y="0" font-size="9" text-anchor="end" font-weight="normal" fill="#231f20"  stroke="#231f20" stroke-width="0.22">20</text>
<line x1="419.6" y1="127.8" x2="422.6" y2="127.8" stroke="#231f20" stroke-width="1.35" />
<text transform="translate(416.40000000000003,130.6) scale(0.9090,1)" x="0" y="0" font-size="9" text-anchor="end" font-weight="normal" fill="#231f20"  stroke="#231f20" stroke-width="0.22">10</text>
<line x1="419.6" y1="149.2" x2="422.6" y2="149.2" stroke="#231f20" stroke-width="1.35" />
<text transform="translate(416.40000000000003,152.0) scale(0.9090,1)" x="0" y="0" font-size="9" text-anchor="end" font-weight="normal" fill="#231f20"  stroke="#231f20" stroke-width="0.22">0</text>
<line x1="422.0" y1="149" x2="510.2" y2="149" stroke="#231f20" stroke-width="1.35" />
<line x1="433.7" y1="149" x2="433.7" y2="152" stroke="#231f20" stroke-width="1.35" />
<line x1="454.4" y1="149" x2="454.4" y2="152" stroke="#231f20" stroke-width="1.35" />
<line x1="475" y1="149" x2="475" y2="152" stroke="#231f20" stroke-width="1.35" />
<line x1="495.4" y1="149" x2="495.4" y2="152" stroke="#231f20" stroke-width="1.35" />
<text x="433.7" y="162.6" font-size="8.5" text-anchor="middle" font-weight="normal" fill="#231f20"  stroke="#231f20" stroke-width="0.22">-</text>
<text x="454.4" y="162.6" font-size="8.5" text-anchor="middle" font-weight="normal" fill="#231f20"  stroke="#231f20" stroke-width="0.22">+</text>
<text x="475" y="162.6" font-size="8.5" text-anchor="middle" font-weight="normal" fill="#231f20"  stroke="#231f20" stroke-width="0.22">-</text>
<text x="495.4" y="162.6" font-size="8.5" text-anchor="middle" font-weight="normal" fill="#231f20"  stroke="#231f20" stroke-width="0.22">+</text>
<line x1="427.5" y1="167.7" x2="460.6" y2="167.7" stroke="#6e6e6e" stroke-width="1.7" />
<line x1="469.4" y1="167.7" x2="502.5" y2="167.7" stroke="#6e6e6e" stroke-width="1.7" />
<text transform="translate(440.4,178.8) scale(0.9114,1)" x="0" y="0" font-size="9" text-anchor="middle" font-weight="normal" fill="#231f20"  stroke="#231f20" stroke-width="0.22">19-CAR-ML</text>
<text transform="translate(489.5,178.8) scale(0.9114,1)" x="0" y="0" font-size="9" text-anchor="middle" font-weight="normal" fill="#231f20"  stroke="#231f20" stroke-width="0.22">33-CAR-ML</text>
<text transform="translate(401,105.2) rotate(-90) scale(0.8525,1)" x="0" y="0" font-size="9" text-anchor="middle" fill="#231f20" stroke="#231f20" stroke-width="0.22">Percent CD107a-positive</text>
<path d="M433.3,59.4 V55.9 H454.4 V59.4" fill="none" stroke="#2b2b2b" stroke-width="1.1" />
<path d="M439.32,49.60 L439.32,53.20 M437.77,50.50 L440.88,52.30 M440.88,50.50 L437.77,52.30 " stroke="#231f20" stroke-width="0.95" fill="none"/>
<path d="M442.77,49.60 L442.77,53.20 M441.22,50.50 L444.33,52.30 M444.33,50.50 L441.22,52.30 " stroke="#231f20" stroke-width="0.95" fill="none"/>
<path d="M446.22,49.60 L446.22,53.20 M444.67,50.50 L447.78,52.30 M447.78,50.50 L444.67,52.30 " stroke="#231f20" stroke-width="0.95" fill="none"/>
<path d="M449.68,49.60 L449.68,53.20 M448.12,50.50 L451.23,52.30 M451.23,50.50 L448.12,52.30 " stroke="#231f20" stroke-width="0.95" fill="none"/>
<path d="M474.2,125.4 V122 H495.8 V125.4" fill="none" stroke="#2b2b2b" stroke-width="1.1" />
<text x="484.8" y="118.9" font-size="8" text-anchor="middle" font-weight="normal" fill="#231f20"  stroke="#231f20" stroke-width="0.22">ns</text>
<line x1="435.5" y1="132" x2="454.4" y2="64.6" stroke="#000" stroke-width="1.15" />
<line x1="435.5" y1="133.5" x2="454.4" y2="75.8" stroke="#000" stroke-width="1.15" />
<line x1="435.5" y1="135" x2="454.4" y2="81.5" stroke="#000" stroke-width="1.15" />
<line x1="435.5" y1="136" x2="454.4" y2="83.7" stroke="#000" stroke-width="1.15" />
<line x1="435.5" y1="137.5" x2="454.4" y2="88" stroke="#000" stroke-width="1.15" />
<line x1="435.5" y1="138.5" x2="454.4" y2="92.7" stroke="#000" stroke-width="1.15" />
<line x1="435.5" y1="139.5" x2="454.4" y2="99.4" stroke="#000" stroke-width="1.15" />
<line x1="435.5" y1="140.5" x2="454.4" y2="104" stroke="#000" stroke-width="1.15" />
<line x1="435.5" y1="141.5" x2="454.4" y2="108.9" stroke="#000" stroke-width="1.15" />
<line x1="435.5" y1="142" x2="454.4" y2="112.9" stroke="#000" stroke-width="1.15" />
<line x1="435.5" y1="143" x2="454.4" y2="116.3" stroke="#000" stroke-width="1.15" />
<line x1="435.5" y1="144" x2="454.4" y2="119.5" stroke="#000" stroke-width="1.15" />
<line x1="435.5" y1="144.5" x2="454.4" y2="123" stroke="#000" stroke-width="1.15" />
<line x1="435.5" y1="141" x2="454.4" y2="135.4" stroke="#000" stroke-width="1.15" />
<circle cx="433.90" cy="131.50" r="3.15" fill="#e58e1e" stroke="none" stroke-width="0" opacity="1"/>
<circle cx="433.20" cy="134.50" r="3.15" fill="#e58e1e" stroke="none" stroke-width="0" opacity="1"/>
<circle cx="434.20" cy="137.50" r="3.15" fill="#e58e1e" stroke="none" stroke-width="0" opacity="1"/>
<circle cx="433.30" cy="140.50" r="3.15" fill="#e58e1e" stroke="none" stroke-width="0" opacity="1"/>
<circle cx="434.00" cy="143.20" r="3.15" fill="#e58e1e" stroke="none" stroke-width="0" opacity="1"/>
<circle cx="433.60" cy="145.30" r="3.15" fill="#e58e1e" stroke="none" stroke-width="0" opacity="1"/>
<rect x="430.8" y="132" width="5.9" height="12.5" fill="#e58e1e"/>
<path d="M450.90,67.75 L454.40,61.45 L457.90,67.75 Z" fill="#62a83c"/>
<path d="M450.90,78.95 L454.40,72.65 L457.90,78.95 Z" fill="#62a83c"/>
<path d="M450.90,84.65 L454.40,78.35 L457.90,84.65 Z" fill="#62a83c"/>
<path d="M450.90,86.85 L454.40,80.55 L457.90,86.85 Z" fill="#62a83c"/>
<path d="M450.90,91.15 L454.40,84.85 L457.90,91.15 Z" fill="#62a83c"/>
<path d="M450.90,95.85 L454.40,89.55 L457.90,95.85 Z" fill="#62a83c"/>
<path d="M450.90,102.55 L454.40,96.25 L457.90,102.55 Z" fill="#62a83c"/>
<path d="M450.90,107.15 L454.40,100.85 L457.90,107.15 Z" fill="#62a83c"/>
<path d="M450.90,112.05 L454.40,105.75 L457.90,112.05 Z" fill="#62a83c"/>
<path d="M450.90,116.05 L454.40,109.75 L457.90,116.05 Z" fill="#62a83c"/>
<path d="M450.90,119.45 L454.40,113.15 L457.90,119.45 Z" fill="#62a83c"/>
<path d="M450.90,122.65 L454.40,116.35 L457.90,122.65 Z" fill="#62a83c"/>
<path d="M450.90,126.15 L454.40,119.85 L457.90,126.15 Z" fill="#62a83c"/>
<path d="M450.90,138.55 L454.40,132.25 L457.90,138.55 Z" fill="#62a83c"/>
<line x1="475" y1="138.5" x2="495.4" y2="131.5" stroke="#000" stroke-width="1.6" />
<line x1="475" y1="140.5" x2="495.4" y2="134" stroke="#000" stroke-width="1.6" />
<line x1="475" y1="142" x2="495.4" y2="136.5" stroke="#000" stroke-width="1.6" />
<line x1="475" y1="143.5" x2="495.4" y2="139" stroke="#000" stroke-width="1.6" />
<line x1="475" y1="145" x2="495.4" y2="141" stroke="#000" stroke-width="1.6" />
<line x1="475" y1="146" x2="495.4" y2="143" stroke="#000" stroke-width="1.6" />
<circle cx="474.90" cy="136.80" r="3.2" fill="#e58e1e" stroke="none" stroke-width="0" opacity="1"/>
<circle cx="474.50" cy="139.50" r="3.2" fill="#e58e1e" stroke="none" stroke-width="0" opacity="1"/>
<circle cx="475.20" cy="142.00" r="3.2" fill="#e58e1e" stroke="none" stroke-width="0" opacity="1"/>
<circle cx="474.60" cy="144.20" r="3.2" fill="#e58e1e" stroke="none" stroke-width="0" opacity="1"/>
<circle cx="475.00" cy="146.30" r="3.2" fill="#e58e1e" stroke="none" stroke-width="0" opacity="1"/>
<rect x="471.6" y="136.7" width="6.4" height="9.7" fill="#e58e1e"/>
<rect x="492" y="127.8" width="6.9" height="18.8" fill="#a8112e"/>
<line x1="38.3" y1="213" x2="38.3" y2="281.0" stroke="#231f20" stroke-width="1.35" />
<line x1="35.3" y1="215.8" x2="38.3" y2="215.8" stroke="#231f20" stroke-width="1.35" />
<text transform="translate(32.099999999999994,218.60000000000002) scale(0.9090,1)" x="0" y="0" font-size="9" text-anchor="end" font-weight="normal" fill="#231f20"  stroke="#231f20" stroke-width="0.22">60</text>
<line x1="35.3" y1="232" x2="38.3" y2="232" stroke="#231f20" stroke-width="1.35" />
<text transform="translate(32.099999999999994,234.8) scale(0.9090,1)" x="0" y="0" font-size="9" text-anchor="end" font-weight="normal" fill="#231f20"  stroke="#231f20" stroke-width="0.22">50</text>
<line x1="35.3" y1="248.1" x2="38.3" y2="248.1" stroke="#231f20" stroke-width="1.35" />
<text transform="translate(32.099999999999994,250.9) scale(0.9090,1)" x="0" y="0" font-size="9" text-anchor="end" font-weight="normal" fill="#231f20"  stroke="#231f20" stroke-width="0.22">40</text>
<line x1="35.3" y1="264.3" x2="38.3" y2="264.3" stroke="#231f20" stroke-width="1.35" />
<text transform="translate(32.099999999999994,267.1) scale(0.9090,1)" x="0" y="0" font-size="9" text-anchor="end" font-weight="normal" fill="#231f20"  stroke="#231f20" stroke-width="0.22">30</text>
<line x1="35.3" y1="280.4" x2="38.3" y2="280.4" stroke="#231f20" stroke-width="1.35" />
<text transform="translate(32.099999999999994,283.2) scale(0.9090,1)" x="0" y="0" font-size="9" text-anchor="end" font-weight="normal" fill="#231f20"  stroke="#231f20" stroke-width="0.22">20</text>
<line x1="37.699999999999996" y1="280.4" x2="101.6" y2="280.4" stroke="#231f20" stroke-width="1.35" />
<line x1="50.8" y1="280.4" x2="50.8" y2="283.4" stroke="#231f20" stroke-width="1.35" />
<line x1="69.3" y1="280.4" x2="69.3" y2="283.4" stroke="#231f20" stroke-width="1.35" />
<line x1="87.8" y1="280.4" x2="87.8" y2="283.4" stroke="#231f20" stroke-width="1.35" />
<text x="51.1" y="293.9" font-size="9" text-anchor="middle" font-weight="normal" fill="#231f20"  stroke="#231f20" stroke-width="0.22">1</text>
<text x="70" y="293.9" font-size="9" text-anchor="middle" font-weight="normal" fill="#231f20"  stroke="#231f20" stroke-width="0.22">2.5</text>
<text x="88.5" y="293.9" font-size="9" text-anchor="middle" font-weight="normal" fill="#231f20"  stroke="#231f20" stroke-width="0.22">5</text>
<text transform="translate(69.7,306.1) scale(0.9568,1)" x="0" y="0" font-size="9" text-anchor="middle" font-weight="normal" fill="#231f20"  stroke="#231f20" stroke-width="0.22">Total NK : Target Ratio</text>
<text transform="translate(17.2,245.5) rotate(-90) scale(0.8866,1)" x="0" y="0" font-size="9" text-anchor="middle" fill="#231f20" stroke="#231f20" stroke-width="0.22">Percent specific killing</text>
<path d="M50.6,248.7 L69.4,242.6 L88.4,240.2" fill="none" stroke="#62a83c" stroke-width="1.6" />
<path d="M50.8,263.8 L69.3,259.2 L87.8,257.8" fill="none" stroke="#a8112e" stroke-width="1.6" />
<line x1="50.6" y1="248.7" x2="50.6" y2="239.8" stroke="#62a83c" stroke-width="1.2" />
<line x1="47.6" y1="239.8" x2="53.6" y2="239.8" stroke="#62a83c" stroke-width="1.2" />
<line x1="69.4" y1="242.6" x2="69.4" y2="233.8" stroke="#62a83c" stroke-width="1.2" />
<line x1="66.4" y1="233.8" x2="72.4" y2="233.8" stroke="#62a83c" stroke-width="1.2" />
<line x1="88.4" y1="240.2" x2="88.4" y2="231.8" stroke="#62a83c" stroke-width="1.2" />
<line x1="85.4" y1="231.8" x2="91.4" y2="231.8" stroke="#62a83c" stroke-width="1.2" />
<line x1="50.8" y1="263.8" x2="50.8" y2="270.7" stroke="#a8112e" stroke-width="1.2" />
<line x1="47.8" y1="270.7" x2="53.8" y2="270.7" stroke="#a8112e" stroke-width="1.2" />
<line x1="69.3" y1="259.2" x2="69.3" y2="266.5" stroke="#a8112e" stroke-width="1.2" />
<line x1="66.3" y1="266.5" x2="72.3" y2="266.5" stroke="#a8112e" stroke-width="1.2" />
<line x1="87.8" y1="257.8" x2="87.8" y2="265.5" stroke="#a8112e" stroke-width="1.2" />
<line x1="84.8" y1="265.5" x2="90.8" y2="265.5" stroke="#a8112e" stroke-width="1.2" />
<path d="M46.90,252.03 L50.60,245.37 L54.30,252.03 Z" fill="#62a83c"/>
<path d="M65.70,245.93 L69.40,239.27 L73.10,245.93 Z" fill="#62a83c"/>
<path d="M84.70,243.53 L88.40,236.87 L92.10,243.53 Z" fill="#62a83c"/>
<rect x="47.50" y="260.50" width="6.6" height="6.6" fill="#a8112e"/>
<rect x="66.00" y="255.90" width="6.6" height="6.6" fill="#a8112e"/>
<rect x="84.50" y="254.50" width="6.6" height="6.6" fill="#a8112e"/>
<path d="M46.12,232.40 L46.12,236.00 M44.57,233.30 L47.68,235.10 M47.68,233.30 L44.57,235.10 " stroke="#231f20" stroke-width="0.95" fill="none"/>
<path d="M49.58,232.40 L49.58,236.00 M48.02,233.30 L51.13,235.10 M51.13,233.30 L48.02,235.10 " stroke="#231f20" stroke-width="0.95" fill="none"/>
<path d="M53.02,232.40 L53.02,236.00 M51.47,233.30 L54.58,235.10 M54.58,233.30 L51.47,235.10 " stroke="#231f20" stroke-width="0.95" fill="none"/>
<path d="M56.48,232.40 L56.48,236.00 M54.92,233.30 L58.03,235.10 M58.03,233.30 L54.92,235.10 " stroke="#231f20" stroke-width="0.95" fill="none"/>
<path d="M64.73,224.70 L64.73,228.30 M63.17,225.60 L66.28,227.40 M66.28,225.60 L63.17,227.40 " stroke="#231f20" stroke-width="0.95" fill="none"/>
<path d="M68.18,224.70 L68.18,228.30 M66.62,225.60 L69.73,227.40 M69.73,225.60 L66.62,227.40 " stroke="#231f20" stroke-width="0.95" fill="none"/>
<path d="M71.63,224.70 L71.63,228.30 M70.07,225.60 L73.18,227.40 M73.18,225.60 L70.07,227.40 " stroke="#231f20" stroke-width="0.95" fill="none"/>
<path d="M75.08,224.70 L75.08,228.30 M73.52,225.60 L76.63,227.40 M76.63,225.60 L73.52,227.40 " stroke="#231f20" stroke-width="0.95" fill="none"/>
<path d="M83.83,223.50 L83.83,227.10 M82.27,224.40 L85.38,226.20 M85.38,224.40 L82.27,226.20 " stroke="#231f20" stroke-width="0.95" fill="none"/>
<path d="M87.28,223.50 L87.28,227.10 M85.72,224.40 L88.83,226.20 M88.83,224.40 L85.72,226.20 " stroke="#231f20" stroke-width="0.95" fill="none"/>
<path d="M90.73,223.50 L90.73,227.10 M89.17,224.40 L92.28,226.20 M92.28,224.40 L89.17,226.20 " stroke="#231f20" stroke-width="0.95" fill="none"/>
<path d="M94.18,223.50 L94.18,227.10 M92.62,224.40 L95.73,226.20 M95.73,224.40 L92.62,226.20 " stroke="#231f20" stroke-width="0.95" fill="none"/>
<path d="M95.70,243.73 L99.40,237.07 L103.10,243.73 Z" fill="#62a83c"/>
<text transform="translate(106.6,243.6) scale(0.9219,1)" x="0" y="0" font-size="9" text-anchor="start" font-weight="normal" fill="#231f20"  stroke="#231f20" stroke-width="0.22">19-CAR-ML</text>
<rect x="96.10" y="249.40" width="6.6" height="6.6" fill="#a8112e"/>
<text transform="translate(106.6,256) scale(0.9324,1)" x="0" y="0" font-size="9" text-anchor="start" font-weight="normal" fill="#231f20"  stroke="#231f20" stroke-width="0.22">33-CAR-ML</text>
<path d="M187.2,240.3 C190,240.3 191.1,242.3 191.1,245 C191.1,247.8 189.4,249.9 187.2,249.9 C185,249.9 183.3,247.8 183.3,245 C183.3,242.3 184.4,240.3 187.2,240.3 Z" fill="#e08a2c"/>
<ellipse cx="183.1" cy="246" rx="0.7" ry="1.2" fill="#e08a2c"/>
<ellipse cx="191.3" cy="246" rx="0.7" ry="1.2" fill="#e08a2c"/>
<path d="M185,248.5 L189.4,248.5 L189.8,252 C191.5,253.2 194.8,253.6 196.3,254.8 C197.6,256 197.8,259 198,263 C198.4,267 199.6,271 200.8,275 C201.8,276.3 203.4,277.2 203.1,278.6 C202.2,279.6 200.8,279.2 200,279.6 L199.6,281 L198.6,281 L197.4,278.4 C196.4,275 195.2,270.5 194.6,266.5 L194.2,281.7 L180.2,281.7 L179.8,266.5 C179.2,270.5 178,275 177,278.4 L175.8,281 L174.8,281 L174.4,279.6 C173.6,279.2 172.2,279.6 171.3,278.6 C171,277.2 172.6,276.3 173.6,275 C174.8,271 176,267 176.4,263 C176.6,259 176.8,256 178.1,254.8 C179.6,253.6 182.9,253.2 184.6,252 Z" fill="#e08a2c"/>
<text transform="translate(187,289.3) scale(0.9842,1)" x="0" y="0" font-size="8.7" text-anchor="middle" font-weight="normal" fill="#231f20"  stroke="#231f20" stroke-width="0.22">lymphoma</text>
<text transform="translate(187.1,299.8) scale(1.0108,1)" x="0" y="0" font-size="8.7" text-anchor="middle" font-weight="normal" fill="#231f20"  stroke="#231f20" stroke-width="0.22">patients</text>
<line x1="202.4" y1="260.3" x2="210.08760619584245" y2="253.8715706810628" stroke="#111" stroke-width="1.2" />
<path d="M214.00,250.60 L211.37,256.19 L210.62,253.42 L208.04,252.20 Z" fill="#111"/>
<line x1="202.4" y1="270.3" x2="210.67153440419636" y2="277.1477456952773" stroke="#111" stroke-width="1.2" />
<path d="M214.60,280.40 L208.63,278.83 L211.21,277.59 L211.94,274.83 Z" fill="#111"/>
<text transform="translate(223.4,234.2) scale(0.9618,1)" x="0" y="0" font-size="8.6" text-anchor="middle" font-weight="normal" fill="#231f20"  stroke="#231f20" stroke-width="0.22">PBMC</text>
<rect x="220" y="237.1" width="6.5" height="2.8" fill="#2a2a2a"/>
<line x1="218.9" y1="240.4" x2="227.6" y2="240.4" stroke="#111" stroke-width="1.0" />
<path d="M220.6,240.6 V258.6 A2.55,2.55 0 0 0 225.9,258.6 V240.6" fill="#fff" stroke="#111" stroke-width="1.2"/>
<path d="M221.1,246.2 H225.4 V258.6 A2.15,2.15 0 0 1 221.1,258.6 Z" fill="#c22a42"/>
<path d="M231.4,243.3 C232.5,245.3 233.8,246.4 233.8,248 A2.4,2.4 0 0 1 229,248 C229,246.4 230.3,245.3 231.4,243.3 Z" fill="#c8304a" stroke="#3a1a1a" stroke-width="0.5"/>
<path d="M231.2,253.1 C232.1,254.6 233.3,255.4 233.3,256.4 A2.1,2.1 0 0 1 229.1,256.4 C229.1,255.4 230.3,254.6 231.2,253.1 Z" fill="#c8304a" stroke="#3a1a1a" stroke-width="0.5"/>
<line x1="220.6" y1="278.4" x2="221.6" y2="281.5" stroke="#22160a" stroke-width="1.15" />
<line x1="214.4" y1="284.8" x2="218.9" y2="285.6" stroke="#22160a" stroke-width="1.15" />
<line x1="231.5" y1="284.8" x2="227.6" y2="286.6" stroke="#22160a" stroke-width="1.15" />
<line x1="217.3" y1="294.6" x2="220.2" y2="291.6" stroke="#22160a" stroke-width="1.15" />
<line x1="229.1" y1="295.5" x2="227" y2="292.2" stroke="#22160a" stroke-width="1.15" />
<path d="M221.6,280.4 C224,279.9 226.6,281.2 227.7,283.6 C228,285 226.6,285.6 226.5,286.8 C226.7,288 228.9,289 229,291 C229,293.6 227,295 224.8,294.8 C222,294.5 219.5,292.4 218.6,289.2 C217.8,286 218.4,281.2 221.6,280.4 Z" fill="#c99b62" stroke="#33220f" stroke-width="0.85"/>
<path d="M221,283.5 L224.5,289 M223.5,282.5 L224.2,290 M226,284 L223.8,290.5 M220.5,288 L223.5,290" stroke="#a77c48" stroke-width="0.5" fill="none"/>
<text transform="translate(223.8,306.1) scale(0.9540,1)" x="0" y="0" font-size="8.2" text-anchor="middle" font-weight="normal" fill="#231f20"  stroke="#231f20" stroke-width="0.22">LN</text>
<line x1="239.1" y1="249.5" x2="273.6" y2="249.5" stroke="#111" stroke-width="1.2" />
<path d="M278.30,249.50 L273.10,251.75 L274.30,249.50 L273.10,247.25 Z" fill="#111"/>
<text transform="translate(258,246.8) scale(0.9978,1)" x="0" y="0" font-size="8.3" text-anchor="middle" font-weight="normal" fill="#231f20"  stroke="#231f20" stroke-width="0.22">Isolate</text>
<text transform="translate(258.1,258.1) scale(0.9822,1)" x="0" y="0" font-size="8.3" text-anchor="middle" font-weight="normal" fill="#231f20"  stroke="#231f20" stroke-width="0.22">NK cells</text>
<line x1="239.1" y1="262.4" x2="381.5" y2="262.4" stroke="#111" stroke-width="1.3" />
<line x1="388.9" y1="262.4" x2="494.8" y2="262.4" stroke="#111" stroke-width="1.3" />
<line x1="239.1" y1="257" x2="239.1" y2="268.6" stroke="#111" stroke-width="1.3" />
<line x1="356.5" y1="262.4" x2="356.5" y2="267.5" stroke="#111" stroke-width="1.3" />
<line x1="428.4" y1="262.4" x2="428.4" y2="267.7" stroke="#111" stroke-width="1.3" />
<line x1="494.8" y1="257" x2="494.8" y2="268.2" stroke="#111" stroke-width="1.3" />
<line x1="380.3" y1="266.4" x2="385.6" y2="258.7" stroke="#111" stroke-width="1.2" />
<line x1="384.6" y1="266.4" x2="390.1" y2="258.7" stroke="#111" stroke-width="1.2" />
<text transform="translate(239.5,277.3) scale(1.0026,1)" x="0" y="0" font-size="8.4" text-anchor="middle" font-weight="normal" fill="#231f20"  stroke="#231f20" stroke-width="0.22">Day 0</text>
<text transform="translate(356.2,277.3) scale(1.0026,1)" x="0" y="0" font-size="8.4" text-anchor="middle" font-weight="normal" fill="#231f20"  stroke="#231f20" stroke-width="0.22">Day 1</text>
<text transform="translate(428,277.3) scale(1.0026,1)" x="0" y="0" font-size="8.4" text-anchor="middle" font-weight="normal" fill="#231f20"  stroke="#231f20" stroke-width="0.22">Day 4</text>
<text transform="translate(494.4,277.3) scale(1.0026,1)" x="0" y="0" font-size="8.4" text-anchor="middle" font-weight="normal" fill="#231f20"  stroke="#231f20" stroke-width="0.22">Day 7</text>
<line x1="238.5" y1="289.4" x2="493.5" y2="289.4" stroke="#111" stroke-width="1.1" stroke-dasharray="3.1,2.2"/>
<line x1="494.3" y1="289.9" x2="494.3" y2="285" stroke="#111" stroke-width="1.1" />
<path d="M494.3,280.2 L496.7,285.6 L491.9,285.6 Z" fill="#111"/>
<circle cx="292.20" cy="248.00" r="4.5" fill="#707070" stroke="none" stroke-width="0" opacity="1"/>
<circle cx="284.2" cy="245.9" r="4.475" fill="#858585" stroke="#4a4a4a" stroke-width="0.75"/>
<circle cx="284.2" cy="245.9" r="3.8499999999999996" fill="none" stroke="#e0e0e0" stroke-width="0.5"/>
<circle cx="297.7" cy="253.7" r="4.475" fill="#858585" stroke="#4a4a4a" stroke-width="0.75"/>
<circle cx="297.7" cy="253.7" r="3.8499999999999996" fill="none" stroke="#e0e0e0" stroke-width="0.5"/>
<circle cx="288.1" cy="251.6" r="4.475" fill="#858585" stroke="#4a4a4a" stroke-width="0.75"/>
<circle cx="288.1" cy="251.6" r="3.8499999999999996" fill="none" stroke="#e0e0e0" stroke-width="0.5"/>
<circle cx="292.7" cy="241.7" r="4.475" fill="#858585" stroke="#4a4a4a" stroke-width="0.75"/>
<circle cx="292.7" cy="241.7" r="3.8499999999999996" fill="none" stroke="#e0e0e0" stroke-width="0.5"/>
<circle cx="299.2" cy="246.5" r="4.475" fill="#858585" stroke="#4a4a4a" stroke-width="0.75"/>
<circle cx="299.2" cy="246.5" r="3.8499999999999996" fill="none" stroke="#e0e0e0" stroke-width="0.5"/>
<text transform="translate(324.6,230.7) scale(1.0306,1)" x="0" y="0" font-size="8.4" text-anchor="middle" font-weight="normal" fill="#231f20"  stroke="#231f20" stroke-width="0.22">IL-12/15/18</text>
<text transform="translate(318.9,246.5) scale(0.9918,1)" x="0" y="0" font-size="8.4" text-anchor="middle" font-weight="normal" fill="#231f20"  stroke="#231f20" stroke-width="0.22">16h</text>
<line x1="306.5" y1="248.9" x2="331.1" y2="248.9" stroke="#111" stroke-width="1.2" />
<path d="M335.80,248.90 L330.60,251.15 L331.80,248.90 L330.60,246.65 Z" fill="#111"/>
<circle cx="351.50" cy="248.50" r="5" fill="#8a1a1e" stroke="none" stroke-width="0" opacity="1"/>
<circle cx="346.2" cy="243.9" r="4.65" fill="#a81a22" stroke="#3a2a2a" stroke-width="0.7"/>
<circle cx="346.2" cy="243.9" r="4.05" fill="none" stroke="#f2c4c4" stroke-width="0.5"/>
<circle cx="355" cy="243" r="4.65" fill="#a81a22" stroke="#3a2a2a" stroke-width="0.7"/>
<circle cx="355" cy="243" r="4.05" fill="none" stroke="#f2c4c4" stroke-width="0.5"/>
<circle cx="342.8" cy="251.6" r="4.65" fill="#a81a22" stroke="#3a2a2a" stroke-width="0.7"/>
<circle cx="342.8" cy="251.6" r="4.05" fill="none" stroke="#f2c4c4" stroke-width="0.5"/>
<circle cx="359.7" cy="251" r="4.65" fill="#a81a22" stroke="#3a2a2a" stroke-width="0.7"/>
<circle cx="359.7" cy="251" r="4.05" fill="none" stroke="#f2c4c4" stroke-width="0.5"/>
<circle cx="352.1" cy="254.1" r="4.65" fill="#a81a22" stroke="#3a2a2a" stroke-width="0.7"/>
<circle cx="352.1" cy="254.1" r="4.05" fill="none" stroke="#f2c4c4" stroke-width="0.5"/>
<text transform="translate(390.6,234.2) scale(0.9639,1)" x="0" y="0" font-size="8.4" text-anchor="middle" font-weight="normal" fill="#231f20"  stroke="#231f20" stroke-width="0.22">19-CAR</text>
<text transform="translate(391.2,245) scale(1.0288,1)" x="0" y="0" font-size="8.4" text-anchor="middle" font-weight="normal" fill="#231f20"  stroke="#231f20" stroke-width="0.22">lentiviral</text>
<line x1="367.3" y1="249.2" x2="409.5" y2="249.2" stroke="#111" stroke-width="1.2" />
<path d="M414.20,249.20 L409.00,251.45 L410.20,249.20 L409.00,246.95 Z" fill="#111"/>
<text transform="translate(391.3,256.8) scale(1.0358,1)" x="0" y="0" font-size="8.4" text-anchor="middle" font-weight="normal" fill="#231f20"  stroke="#231f20" stroke-width="0.22">transduction</text>
<line x1="418.2" y1="234.5" x2="416.2" y2="229" stroke="#222" stroke-width="0.9" />
<path d="M416.20,229.00 L417.06,226.98" stroke="#327a1c" stroke-width="2.0" stroke-linecap="round"/>
<path d="M416.20,229.00 L414.24,228.01" stroke="#327a1c" stroke-width="2.0" stroke-linecap="round"/>
<line x1="428.2" y1="233" x2="429.3" y2="228" stroke="#222" stroke-width="0.9" />
<path d="M429.30,228.00 L431.11,226.76" stroke="#327a1c" stroke-width="2.0" stroke-linecap="round"/>
<path d="M429.30,228.00 L428.18,226.12" stroke="#327a1c" stroke-width="2.0" stroke-linecap="round"/>
<line x1="437.5" y1="239.5" x2="439.6" y2="233.6" stroke="#222" stroke-width="0.9" />
<path d="M439.60,233.60 L441.55,232.60" stroke="#327a1c" stroke-width="2.0" stroke-linecap="round"/>
<path d="M439.60,233.60 L438.72,231.59" stroke="#327a1c" stroke-width="2.0" stroke-linecap="round"/>
<line x1="440.2" y1="249.5" x2="443.2" y2="254.8" stroke="#222" stroke-width="0.9" />
<path d="M443.20,254.80 L442.68,256.93" stroke="#327a1c" stroke-width="2.0" stroke-linecap="round"/>
<path d="M443.20,254.80 L445.29,255.45" stroke="#327a1c" stroke-width="2.0" stroke-linecap="round"/>
<line x1="427.6" y1="256" x2="431.9" y2="258.6" stroke="#222" stroke-width="0.9" />
<path d="M431.90,258.60 L432.49,260.71" stroke="#327a1c" stroke-width="2.0" stroke-linecap="round"/>
<path d="M431.90,258.60 L434.05,258.14" stroke="#327a1c" stroke-width="2.0" stroke-linecap="round"/>
<circle cx="435.3" cy="245.1" r="6.5" fill="#c6f03e" stroke="#263a16" stroke-width="0.6"/>
<circle cx="434.8" cy="244.6" r="5.05" fill="#5aa55a"/>
<circle cx="422.9" cy="250.7" r="6.5" fill="#c6f03e" stroke="#263a16" stroke-width="0.6"/>
<circle cx="422.4" cy="250.2" r="5.05" fill="#5aa55a"/>
<circle cx="423.7" cy="239.6" r="7.0" fill="#c6f03e" stroke="#263a16" stroke-width="0.6"/>
<circle cx="423.2" cy="239.1" r="5.55" fill="#5aa55a"/>
<line x1="417.3" y1="240" x2="415" y2="239.6" stroke="#222" stroke-width="0.9" />
<path d="M415.00,239.60 L413.68,237.85" stroke="#327a1c" stroke-width="2.0" stroke-linecap="round"/>
<path d="M415.00,239.60 L413.17,240.80" stroke="#327a1c" stroke-width="2.0" stroke-linecap="round"/>
<line x1="429.8" y1="246" x2="432.7" y2="248.8" stroke="#222" stroke-width="0.9" />
<path d="M432.70,248.80 L432.81,250.99" stroke="#327a1c" stroke-width="2.0" stroke-linecap="round"/>
<path d="M432.70,248.80 L434.89,248.83" stroke="#327a1c" stroke-width="2.0" stroke-linecap="round"/>
<path d="M449.4,249.6 L454.2,244.9 L454.2,247.4 L470.2,247.4 L470.2,244.9 L474.9,249.6 L470.2,254.4 L470.2,252 L454.2,252 L454.2,254.4 Z" fill="#000"/>
<path d="M480.8,234.8 L484.3,234.1 L487,236.2 L490.4,235.8 L495.2,235.5 L496.6,237.5 L497.3,240.3 L499.7,241 L499.3,242.3 L496.6,243.7 L498.3,246.4 L498.7,248.5 L495.9,248.5 L493.9,249.9 L494.2,252.6 L493.5,256 L492.5,257.7 L489.8,258.1 L488.7,257.1 L490.4,254.7 L489.8,251.9 L487.7,249.9 L486,250.5 L484.6,253.6 L482.6,253.6 L481.9,251.2 L482.9,247.8 L481.5,245.8 L479.5,244.7 L479.8,242.3 L481.9,241.3 L480.8,238.2 L480.5,235.8 Z" fill="#9e6c33" stroke="#6e481c" stroke-width="0.9" stroke-linejoin="round"/>
<path d="M485.3,240.3 L489.8,239.9 L491.5,242 L491.1,246.1 L487.7,246.8 L485.6,245.1 Z" fill="#603608" stroke="#603608" stroke-width="0.6" stroke-linejoin="round"/>
<text transform="translate(478.7,217.7) scale(0.9964,1)" x="0" y="0" font-size="8.6" text-anchor="middle" font-weight="normal" fill="#231f20"  stroke="#231f20" stroke-width="0.22">Cryopreserved</text>
<text transform="translate(479,229.7) scale(1.0024,1)" x="0" y="0" font-size="8.6" text-anchor="middle" font-weight="normal" fill="#231f20"  stroke="#231f20" stroke-width="0.22">B-cell tumors</text>
<defs><linearGradient id="tk" x1="0" y1="0" x2="0" y2="1"><stop offset="0" stop-color="#222" stop-opacity="0.95"/><stop offset="0.45" stop-color="#666" stop-opacity="0.6"/><stop offset="1" stop-color="#aaa" stop-opacity="0.15"/></linearGradient><linearGradient id="tg" x1="0" y1="0" x2="0" y2="1"><stop offset="0" stop-color="#3c7a28" stop-opacity="0.95"/><stop offset="0.45" stop-color="#6aa852" stop-opacity="0.6"/><stop offset="1" stop-color="#a8d090" stop-opacity="0.15"/></linearGradient><linearGradient id="lg" x1="0" y1="0" x2="1" y2="0"><stop offset="0" stop-color="#5a9a44" stop-opacity="0.55"/><stop offset="1" stop-color="#9ccc80" stop-opacity="0.1"/></linearGradient><linearGradient id="lk" x1="0" y1="0" x2="1" y2="0"><stop offset="0" stop-color="#444" stop-opacity="0.5"/><stop offset="1" stop-color="#999" stop-opacity="0.1"/></linearGradient></defs>
<rect x="22.5" y="362.6" width="64.0" height="65.79999999999995" fill="none" stroke="#b0b0b0" stroke-width="0.8"/>
<line x1="22.5" y1="362.6" x2="22.5" y2="428.4" stroke="#555" stroke-width="0.9" />
<line x1="22.5" y1="428.4" x2="86.5" y2="428.4" stroke="#555" stroke-width="0.9" />
<line x1="21.3" y1="364.6" x2="22.5" y2="364.6" stroke="#444" stroke-width="0.6" />
<line x1="21.3" y1="368.72" x2="22.5" y2="368.72" stroke="#444" stroke-width="0.6" />
<line x1="21.3" y1="372.84000000000003" x2="22.5" y2="372.84000000000003" stroke="#444" stroke-width="0.6" />
<line x1="21.3" y1="376.96000000000004" x2="22.5" y2="376.96000000000004" stroke="#444" stroke-width="0.6" />
<line x1="21.3" y1="381.08" x2="22.5" y2="381.08" stroke="#444" stroke-width="0.6" />
<line x1="21.3" y1="385.2" x2="22.5" y2="385.2" stroke="#444" stroke-width="0.6" />
<line x1="21.3" y1="389.32" x2="22.5" y2="389.32" stroke="#444" stroke-width="0.6" />
<line x1="21.3" y1="393.44" x2="22.5" y2="393.44" stroke="#444" stroke-width="0.6" />
<line x1="21.3" y1="397.56" x2="22.5" y2="397.56" stroke="#444" stroke-width="0.6" />
<line x1="21.3" y1="401.68" x2="22.5" y2="401.68" stroke="#444" stroke-width="0.6" />
<line x1="21.3" y1="405.8" x2="22.5" y2="405.8" stroke="#444" stroke-width="0.6" />
<line x1="21.3" y1="409.91999999999996" x2="22.5" y2="409.91999999999996" stroke="#444" stroke-width="0.6" />
<line x1="21.3" y1="414.03999999999996" x2="22.5" y2="414.03999999999996" stroke="#444" stroke-width="0.6" />
<line x1="21.3" y1="418.15999999999997" x2="22.5" y2="418.15999999999997" stroke="#444" stroke-width="0.6" />
<line x1="21.3" y1="422.28" x2="22.5" y2="422.28" stroke="#444" stroke-width="0.6" />
<line x1="21.3" y1="426.4" x2="22.5" y2="426.4" stroke="#444" stroke-width="0.6" />
<line x1="24.5" y1="428.4" x2="24.5" y2="429.59999999999997" stroke="#444" stroke-width="0.6" />
<line x1="27.657894736842106" y1="428.4" x2="27.657894736842106" y2="429.59999999999997" stroke="#444" stroke-width="0.6" />
<line x1="30.815789473684212" y1="428.4" x2="30.815789473684212" y2="429.59999999999997" stroke="#444" stroke-width="0.6" />
<line x1="33.973684210526315" y1="428.4" x2="33.973684210526315" y2="429.59999999999997" stroke="#444" stroke-width="0.6" />
<line x1="37.131578947368425" y1="428.4" x2="37.131578947368425" y2="429.59999999999997" stroke="#444" stroke-width="0.6" />
<line x1="40.28947368421053" y1="428.4" x2="40.28947368421053" y2="429.59999999999997" stroke="#444" stroke-width="0.6" />
<line x1="43.44736842105263" y1="428.4" x2="43.44736842105263" y2="429.59999999999997" stroke="#444" stroke-width="0.6" />
<line x1="46.60526315789474" y1="428.4" x2="46.60526315789474" y2="429.59999999999997" stroke="#444" stroke-width="0.6" />
<line x1="49.76315789473684" y1="428.4" x2="49.76315789473684" y2="429.59999999999997" stroke="#444" stroke-width="0.6" />
<line x1="52.921052631578945" y1="428.4" x2="52.921052631578945" y2="429.59999999999997" stroke="#444" stroke-width="0.6" />
<line x1="56.078947368421055" y1="428.4" x2="56.078947368421055" y2="429.59999999999997" stroke="#444" stroke-width="0.6" />
<line x1="59.23684210526316" y1="428.4" x2="59.23684210526316" y2="429.59999999999997" stroke="#444" stroke-width="0.6" />
<line x1="62.39473684210526" y1="428.4" x2="62.39473684210526" y2="429.59999999999997" stroke="#444" stroke-width="0.6" />
<line x1="65.55263157894737" y1="428.4" x2="65.55263157894737" y2="429.59999999999997" stroke="#444" stroke-width="0.6" />
<line x1="68.71052631578948" y1="428.4" x2="68.71052631578948" y2="429.59999999999997" stroke="#444" stroke-width="0.6" />
<line x1="71.86842105263159" y1="428.4" x2="71.86842105263159" y2="429.59999999999997" stroke="#444" stroke-width="0.6" />
<line x1="75.02631578947368" y1="428.4" x2="75.02631578947368" y2="429.59999999999997" stroke="#444" stroke-width="0.6" />
<line x1="78.18421052631578" y1="428.4" x2="78.18421052631578" y2="429.59999999999997" stroke="#444" stroke-width="0.6" />
<line x1="81.34210526315789" y1="428.4" x2="81.34210526315789" y2="429.59999999999997" stroke="#444" stroke-width="0.6" />
<line x1="84.5" y1="428.4" x2="84.5" y2="429.59999999999997" stroke="#444" stroke-width="0.6" />
<line x1="20.9" y1="388.92" x2="22.8" y2="388.92" stroke="#222" stroke-width="1.2" />
<line x1="20.9" y1="416.556" x2="22.8" y2="416.556" stroke="#222" stroke-width="1.2" />
<line x1="21.1" y1="369.18" x2="22.8" y2="369.18" stroke="#333" stroke-width="1.0" />
<circle cx="47.9" cy="409.1" r="0.35" fill="#555" opacity="0.75"/>
<circle cx="47.9" cy="404.1" r="0.35" fill="#555" opacity="0.75"/>
<circle cx="46.2" cy="404.7" r="0.35" fill="#555" opacity="0.75"/>
<circle cx="51.3" cy="408.5" r="0.35" fill="#555" opacity="0.75"/>
<circle cx="51.1" cy="407.5" r="0.35" fill="#555" opacity="0.75"/>
<circle cx="49.5" cy="407.1" r="0.35" fill="#555" opacity="0.75"/>
<circle cx="44.3" cy="411.1" r="0.35" fill="#555" opacity="0.75"/>
<circle cx="49.8" cy="409.0" r="0.35" fill="#555" opacity="0.75"/>
<circle cx="44.3" cy="395.5" r="0.35" fill="#555" opacity="0.75"/>
<circle cx="46.3" cy="403.2" r="0.35" fill="#555" opacity="0.75"/>
<circle cx="49.3" cy="405.7" r="0.35" fill="#555" opacity="0.75"/>
<circle cx="49.8" cy="402.1" r="0.35" fill="#555" opacity="0.75"/>
<circle cx="49.3" cy="408.4" r="0.35" fill="#555" opacity="0.75"/>
<circle cx="46.8" cy="416.3" r="0.35" fill="#555" opacity="0.75"/>
<circle cx="49.9" cy="413.2" r="0.35" fill="#555" opacity="0.75"/>
<circle cx="46.9" cy="401.6" r="0.35" fill="#555" opacity="0.75"/>
<circle cx="47.6" cy="405.4" r="0.35" fill="#555" opacity="0.75"/>
<circle cx="50.1" cy="407.5" r="0.35" fill="#555" opacity="0.75"/>
<circle cx="47.4" cy="400.3" r="0.35" fill="#555" opacity="0.75"/>
<circle cx="47.2" cy="413.3" r="0.35" fill="#555" opacity="0.75"/>
<circle cx="46.5" cy="407.5" r="0.35" fill="#555" opacity="0.75"/>
<circle cx="49.6" cy="397.1" r="0.35" fill="#555" opacity="0.75"/>
<circle cx="48.6" cy="413.8" r="0.35" fill="#555" opacity="0.75"/>
<circle cx="43.5" cy="404.1" r="0.35" fill="#555" opacity="0.75"/>
<circle cx="48.2" cy="401.1" r="0.35" fill="#555" opacity="0.75"/>
<circle cx="49.7" cy="405.6" r="0.35" fill="#555" opacity="0.75"/>
<circle cx="44.8" cy="411.0" r="0.35" fill="#555" opacity="0.75"/>
<circle cx="50.2" cy="411.7" r="0.35" fill="#555" opacity="0.75"/>
<circle cx="52.1" cy="408.2" r="0.35" fill="#555" opacity="0.75"/>
<circle cx="48.8" cy="398.2" r="0.35" fill="#555" opacity="0.75"/>
<circle cx="50.0" cy="402.3" r="0.35" fill="#555" opacity="0.75"/>
<circle cx="47.4" cy="398.4" r="0.35" fill="#555" opacity="0.75"/>
<circle cx="46.1" cy="402.8" r="0.35" fill="#555" opacity="0.75"/>
<circle cx="51.7" cy="393.8" r="0.35" fill="#555" opacity="0.75"/>
<circle cx="44.9" cy="407.4" r="0.35" fill="#555" opacity="0.75"/>
<circle cx="52.1" cy="409.5" r="0.35" fill="#555" opacity="0.75"/>
<circle cx="43.8" cy="390.9" r="0.35" fill="#555" opacity="0.75"/>
<circle cx="49.4" cy="401.6" r="0.35" fill="#555" opacity="0.75"/>
<circle cx="45.7" cy="411.9" r="0.35" fill="#555" opacity="0.75"/>
<circle cx="51.3" cy="406.9" r="0.35" fill="#555" opacity="0.75"/>
<circle cx="49.1" cy="408.6" r="0.35" fill="#555" opacity="0.75"/>
<circle cx="52.5" cy="409.7" r="0.35" fill="#555" opacity="0.75"/>
<circle cx="49.8" cy="409.3" r="0.35" fill="#555" opacity="0.75"/>
<circle cx="44.6" cy="413.7" r="0.35" fill="#555" opacity="0.75"/>
<circle cx="50.9" cy="409.2" r="0.35" fill="#555" opacity="0.75"/>
<circle cx="35.2" cy="384.9" r="0.35" fill="#666" opacity="0.6"/>
<circle cx="52.1" cy="375.5" r="0.35" fill="#666" opacity="0.6"/>
<circle cx="45.9" cy="398.2" r="0.35" fill="#666" opacity="0.6"/>
<circle cx="39.1" cy="402.9" r="0.35" fill="#666" opacity="0.6"/>
<circle cx="50.3" cy="388.8" r="0.35" fill="#666" opacity="0.6"/>
<circle cx="48.9" cy="395.2" r="0.35" fill="#666" opacity="0.6"/>
<circle cx="47.7" cy="399.2" r="0.35" fill="#666" opacity="0.6"/>
<circle cx="43.0" cy="386.7" r="0.35" fill="#666" opacity="0.6"/>
<circle cx="53.3" cy="390.2" r="0.35" fill="#666" opacity="0.6"/>
<circle cx="41.7" cy="397.6" r="0.35" fill="#666" opacity="0.6"/>
<circle cx="55.8" cy="386.4" r="0.35" fill="#666" opacity="0.6"/>
<circle cx="38.7" cy="388.9" r="0.35" fill="#666" opacity="0.6"/>
<circle cx="46.1" cy="387.6" r="0.35" fill="#666" opacity="0.6"/>
<circle cx="55.4" cy="381.8" r="0.35" fill="#666" opacity="0.6"/>
<circle cx="54.6" cy="379.9" r="0.35" fill="#666" opacity="0.6"/>
<circle cx="42.3" cy="395.1" r="0.35" fill="#666" opacity="0.6"/>
<circle cx="53.8" cy="396.9" r="0.35" fill="#666" opacity="0.6"/>
<circle cx="49.1" cy="391.1" r="0.35" fill="#666" opacity="0.6"/>
<circle cx="47.9" cy="394.6" r="0.35" fill="#666" opacity="0.6"/>
<circle cx="45.9" cy="392.2" r="0.35" fill="#666" opacity="0.6"/>
<circle cx="50.4" cy="390.0" r="0.35" fill="#666" opacity="0.6"/>
<circle cx="51.6" cy="394.5" r="0.35" fill="#666" opacity="0.6"/>
<circle cx="59.1" cy="392.6" r="0.35" fill="#666" opacity="0.6"/>
<circle cx="44.4" cy="387.0" r="0.35" fill="#666" opacity="0.6"/>
<circle cx="46.9" cy="397.4" r="0.35" fill="#666" opacity="0.6"/>
<circle cx="65.3" cy="401.9" r="0.35" fill="#888" opacity="0.6"/>
<circle cx="82.7" cy="372.4" r="0.35" fill="#888" opacity="0.6"/>
<circle cx="59.0" cy="400.4" r="0.35" fill="#888" opacity="0.6"/>
<circle cx="71.2" cy="400.4" r="0.35" fill="#888" opacity="0.6"/>
<circle cx="64.6" cy="404.6" r="0.35" fill="#888" opacity="0.6"/>
<circle cx="70.3" cy="392.8" r="0.35" fill="#888" opacity="0.6"/>
<circle cx="87.4" cy="401.6" r="0.35" fill="#888" opacity="0.6"/>
<circle cx="63.6" cy="397.0" r="0.35" fill="#888" opacity="0.6"/>
<circle cx="66.2" cy="397.4" r="0.35" fill="#888" opacity="0.6"/>
<circle cx="46.2" cy="393.1" r="0.35" fill="#888" opacity="0.6"/>
<circle cx="76.1" cy="386.3" r="0.35" fill="#888" opacity="0.6"/>
<circle cx="67.5" cy="407.5" r="0.35" fill="#888" opacity="0.6"/>
<circle cx="74.8" cy="412.9" r="0.35" fill="#888" opacity="0.6"/>
<circle cx="54.4" cy="394.5" r="0.35" fill="#888" opacity="0.6"/>
<circle cx="65.3" cy="404.2" r="0.35" fill="#888" opacity="0.6"/>
<circle cx="76.7" cy="371.2" r="0.35" fill="#888" opacity="0.6"/>
<circle cx="76.7" cy="383.5" r="0.35" fill="#888" opacity="0.6"/>
<circle cx="73.5" cy="383.1" r="0.35" fill="#888" opacity="0.6"/>
<circle cx="69.4" cy="409.9" r="0.35" fill="#888" opacity="0.6"/>
<circle cx="66.8" cy="399.9" r="0.35" fill="#888" opacity="0.6"/>
<circle cx="74.4" cy="399.4" r="0.35" fill="#888" opacity="0.6"/>
<circle cx="67.3" cy="413.3" r="0.35" fill="#888" opacity="0.6"/>
<circle cx="76.4" cy="395.1" r="0.35" fill="#888" opacity="0.6"/>
<circle cx="90.0" cy="386.5" r="0.35" fill="#888" opacity="0.6"/>
<circle cx="75.3" cy="395.3" r="0.35" fill="#888" opacity="0.6"/>
<circle cx="69.1" cy="405.1" r="0.35" fill="#888" opacity="0.6"/>
<circle cx="69.8" cy="404.4" r="0.35" fill="#888" opacity="0.6"/>
<circle cx="55.8" cy="382.9" r="0.35" fill="#888" opacity="0.6"/>
<circle cx="72.9" cy="388.4" r="0.35" fill="#888" opacity="0.6"/>
<circle cx="59.8" cy="383.3" r="0.35" fill="#888" opacity="0.6"/>
<path d="M48.40,384.00 C51.40,384.00 53.40,387.84 53.40,394.56 C53.40,403.20 50.15,412.16 48.40,416.00 C46.65,412.16 43.40,403.20 43.40,394.56 C43.40,387.84 45.40,384.00 48.40,384.00 Z" fill="url(#tk)" stroke="none" stroke-width="0.45" opacity="1"/>
<path d="M48.30,390.00 C51.06,390.00 52.90,392.28 52.90,396.27 C52.90,401.40 49.91,406.72 48.30,409.00 C46.69,406.72 43.70,401.40 43.70,396.27 C43.70,392.28 45.54,390.00 48.30,390.00 Z" fill="url(#tk)" stroke="none" stroke-width="0.45" opacity="1"/>
<path d="M48.30,378.30 C51.84,378.30 54.20,381.38 54.20,386.78 C54.20,393.72 50.36,400.92 48.30,404.00 C46.23,400.92 42.40,393.72 42.40,386.78 C42.40,381.38 44.76,378.30 48.30,378.30 Z" fill="none" stroke="#555" stroke-width="0.45" opacity="1"/>
<path d="M48.30,378.80 C51.66,378.80 53.90,381.34 53.90,385.80 C53.90,391.52 50.26,397.46 48.30,400.00 C46.34,397.46 42.70,391.52 42.70,385.80 C42.70,381.34 44.94,378.80 48.30,378.80 Z" fill="none" stroke="#333" stroke-width="0.45" opacity="1"/>
<ellipse cx="48" cy="388.4" rx="5.1" ry="9.4" fill="#0a0a0a" transform="rotate(6 48 388.4)"/>
<circle cx="48.4" cy="386.5" r="0.6" fill="#999"/>
<rect x="53.6" y="372.2" width="32.199999999999996" height="50.10000000000002" fill="none" stroke="#6a6a6a" stroke-width="1.1"/>
<text transform="translate(68.5,418.9) scale(0.9145,1)" x="0" y="0" font-size="10" text-anchor="middle" font-weight="normal" fill="#111" stroke="#111" stroke-width="0.4">0.78</text>
<rect x="91.2" y="362.6" width="63.39999999999999" height="66.19999999999999" fill="none" stroke="#b0b0b0" stroke-width="0.8"/>
<line x1="91.2" y1="362.6" x2="91.2" y2="428.8" stroke="#555" stroke-width="0.9" />
<line x1="91.2" y1="428.8" x2="154.6" y2="428.8" stroke="#555" stroke-width="0.9" />
<line x1="90.0" y1="364.6" x2="91.2" y2="364.6" stroke="#444" stroke-width="0.6" />
<line x1="90.0" y1="368.74666666666667" x2="91.2" y2="368.74666666666667" stroke="#444" stroke-width="0.6" />
<line x1="90.0" y1="372.8933333333334" x2="91.2" y2="372.8933333333334" stroke="#444" stroke-width="0.6" />
<line x1="90.0" y1="377.04" x2="91.2" y2="377.04" stroke="#444" stroke-width="0.6" />
<line x1="90.0" y1="381.18666666666667" x2="91.2" y2="381.18666666666667" stroke="#444" stroke-width="0.6" />
<line x1="90.0" y1="385.33333333333337" x2="91.2" y2="385.33333333333337" stroke="#444" stroke-width="0.6" />
<line x1="90.0" y1="389.48" x2="91.2" y2="389.48" stroke="#444" stroke-width="0.6" />
<line x1="90.0" y1="393.62666666666667" x2="91.2" y2="393.62666666666667" stroke="#444" stroke-width="0.6" />
<line x1="90.0" y1="397.77333333333337" x2="91.2" y2="397.77333333333337" stroke="#444" stroke-width="0.6" />
<line x1="90.0" y1="401.92" x2="91.2" y2="401.92" stroke="#444" stroke-width="0.6" />
<line x1="90.0" y1="406.06666666666666" x2="91.2" y2="406.06666666666666" stroke="#444" stroke-width="0.6" />
<line x1="90.0" y1="410.21333333333337" x2="91.2" y2="410.21333333333337" stroke="#444" stroke-width="0.6" />
<line x1="90.0" y1="414.36" x2="91.2" y2="414.36" stroke="#444" stroke-width="0.6" />
<line x1="90.0" y1="418.50666666666666" x2="91.2" y2="418.50666666666666" stroke="#444" stroke-width="0.6" />
<line x1="90.0" y1="422.65333333333336" x2="91.2" y2="422.65333333333336" stroke="#444" stroke-width="0.6" />
<line x1="90.0" y1="426.8" x2="91.2" y2="426.8" stroke="#444" stroke-width="0.6" />
<line x1="93.2" y1="428.8" x2="93.2" y2="430.0" stroke="#444" stroke-width="0.6" />
<line x1="96.32631578947368" y1="428.8" x2="96.32631578947368" y2="430.0" stroke="#444" stroke-width="0.6" />
<line x1="99.45263157894738" y1="428.8" x2="99.45263157894738" y2="430.0" stroke="#444" stroke-width="0.6" />
<line x1="102.57894736842105" y1="428.8" x2="102.57894736842105" y2="430.0" stroke="#444" stroke-width="0.6" />
<line x1="105.70526315789473" y1="428.8" x2="105.70526315789473" y2="430.0" stroke="#444" stroke-width="0.6" />
<line x1="108.83157894736843" y1="428.8" x2="108.83157894736843" y2="430.0" stroke="#444" stroke-width="0.6" />
<line x1="111.9578947368421" y1="428.8" x2="111.9578947368421" y2="430.0" stroke="#444" stroke-width="0.6" />
<line x1="115.08421052631579" y1="428.8" x2="115.08421052631579" y2="430.0" stroke="#444" stroke-width="0.6" />
<line x1="118.21052631578948" y1="428.8" x2="118.21052631578948" y2="430.0" stroke="#444" stroke-width="0.6" />
<line x1="121.33684210526316" y1="428.8" x2="121.33684210526316" y2="430.0" stroke="#444" stroke-width="0.6" />
<line x1="124.46315789473684" y1="428.8" x2="124.46315789473684" y2="430.0" stroke="#444" stroke-width="0.6" />
<line x1="127.58947368421053" y1="428.8" x2="127.58947368421053" y2="430.0" stroke="#444" stroke-width="0.6" />
<line x1="130.7157894736842" y1="428.8" x2="130.7157894736842" y2="430.0" stroke="#444" stroke-width="0.6" />
<line x1="133.8421052631579" y1="428.8" x2="133.8421052631579" y2="430.0" stroke="#444" stroke-width="0.6" />
<line x1="136.96842105263158" y1="428.8" x2="136.96842105263158" y2="430.0" stroke="#444" stroke-width="0.6" />
<line x1="140.09473684210525" y1="428.8" x2="140.09473684210525" y2="430.0" stroke="#444" stroke-width="0.6" />
<line x1="143.22105263157894" y1="428.8" x2="143.22105263157894" y2="430.0" stroke="#444" stroke-width="0.6" />
<line x1="146.34736842105264" y1="428.8" x2="146.34736842105264" y2="430.0" stroke="#444" stroke-width="0.6" />
<line x1="149.4736842105263" y1="428.8" x2="149.4736842105263" y2="430.0" stroke="#444" stroke-width="0.6" />
<line x1="152.6" y1="428.8" x2="152.6" y2="430.0" stroke="#444" stroke-width="0.6" />
<line x1="89.60000000000001" y1="389.08000000000004" x2="91.5" y2="389.08000000000004" stroke="#222" stroke-width="1.2" />
<line x1="89.60000000000001" y1="416.884" x2="91.5" y2="416.884" stroke="#222" stroke-width="1.2" />
<line x1="89.8" y1="369.22" x2="91.5" y2="369.22" stroke="#333" stroke-width="1.0" />
<circle cx="120.4" cy="407.5" r="0.35" fill="#4a8a38" opacity="0.75"/>
<circle cx="121.2" cy="397.4" r="0.35" fill="#4a8a38" opacity="0.75"/>
<circle cx="116.0" cy="396.2" r="0.35" fill="#4a8a38" opacity="0.75"/>
<circle cx="118.7" cy="412.5" r="0.35" fill="#4a8a38" opacity="0.75"/>
<circle cx="112.9" cy="412.4" r="0.35" fill="#4a8a38" opacity="0.75"/>
<circle cx="119.5" cy="401.9" r="0.35" fill="#4a8a38" opacity="0.75"/>
<circle cx="109.1" cy="411.4" r="0.35" fill="#4a8a38" opacity="0.75"/>
<circle cx="115.7" cy="399.4" r="0.35" fill="#4a8a38" opacity="0.75"/>
<circle cx="117.4" cy="405.5" r="0.35" fill="#4a8a38" opacity="0.75"/>
<circle cx="121.2" cy="396.9" r="0.35" fill="#4a8a38" opacity="0.75"/>
<circle cx="120.0" cy="411.9" r="0.35" fill="#4a8a38" opacity="0.75"/>
<circle cx="121.1" cy="401.9" r="0.35" fill="#4a8a38" opacity="0.75"/>
<circle cx="113.4" cy="409.1" r="0.35" fill="#4a8a38" opacity="0.75"/>
<circle cx="116.4" cy="403.7" r="0.35" fill="#4a8a38" opacity="0.75"/>
<circle cx="121.0" cy="401.4" r="0.35" fill="#4a8a38" opacity="0.75"/>
<circle cx="108.0" cy="400.7" r="0.35" fill="#4a8a38" opacity="0.75"/>
<circle cx="109.5" cy="407.9" r="0.35" fill="#4a8a38" opacity="0.75"/>
<circle cx="117.1" cy="399.3" r="0.35" fill="#4a8a38" opacity="0.75"/>
<circle cx="116.0" cy="408.0" r="0.35" fill="#4a8a38" opacity="0.75"/>
<circle cx="116.3" cy="411.0" r="0.35" fill="#4a8a38" opacity="0.75"/>
<circle cx="115.8" cy="409.2" r="0.35" fill="#4a8a38" opacity="0.75"/>
<circle cx="121.2" cy="412.7" r="0.35" fill="#4a8a38" opacity="0.75"/>
<circle cx="113.6" cy="408.3" r="0.35" fill="#4a8a38" opacity="0.75"/>
<circle cx="109.4" cy="396.5" r="0.35" fill="#4a8a38" opacity="0.75"/>
<circle cx="109.1" cy="409.4" r="0.35" fill="#4a8a38" opacity="0.75"/>
<circle cx="111.7" cy="402.9" r="0.35" fill="#4a8a38" opacity="0.75"/>
<circle cx="115.3" cy="402.8" r="0.35" fill="#4a8a38" opacity="0.75"/>
<circle cx="113.9" cy="404.4" r="0.35" fill="#4a8a38" opacity="0.75"/>
<circle cx="122.3" cy="403.3" r="0.35" fill="#4a8a38" opacity="0.75"/>
<circle cx="117.9" cy="409.0" r="0.35" fill="#4a8a38" opacity="0.75"/>
<circle cx="115.3" cy="395.4" r="0.35" fill="#4a8a38" opacity="0.75"/>
<circle cx="114.1" cy="409.4" r="0.35" fill="#4a8a38" opacity="0.75"/>
<circle cx="110.2" cy="399.4" r="0.35" fill="#4a8a38" opacity="0.75"/>
<circle cx="119.5" cy="407.8" r="0.35" fill="#4a8a38" opacity="0.75"/>
<circle cx="116.0" cy="407.8" r="0.35" fill="#4a8a38" opacity="0.75"/>
<circle cx="116.6" cy="395.9" r="0.35" fill="#4a8a38" opacity="0.75"/>
<circle cx="110.5" cy="399.2" r="0.35" fill="#4a8a38" opacity="0.75"/>
<circle cx="119.2" cy="399.6" r="0.35" fill="#4a8a38" opacity="0.75"/>
<circle cx="112.8" cy="398.4" r="0.35" fill="#4a8a38" opacity="0.75"/>
<circle cx="110.6" cy="402.3" r="0.35" fill="#4a8a38" opacity="0.75"/>
<circle cx="122.4" cy="400.4" r="0.35" fill="#7aa868" opacity="0.6"/>
<circle cx="111.8" cy="399.9" r="0.35" fill="#7aa868" opacity="0.6"/>
<circle cx="127.2" cy="372.7" r="0.35" fill="#7aa868" opacity="0.6"/>
<circle cx="139.5" cy="392.7" r="0.35" fill="#7aa868" opacity="0.6"/>
<circle cx="112.9" cy="385.5" r="0.35" fill="#7aa868" opacity="0.6"/>
<circle cx="135.6" cy="390.5" r="0.35" fill="#7aa868" opacity="0.6"/>
<circle cx="140.0" cy="405.0" r="0.35" fill="#7aa868" opacity="0.6"/>
<circle cx="139.0" cy="399.9" r="0.35" fill="#7aa868" opacity="0.6"/>
<circle cx="145.0" cy="403.9" r="0.35" fill="#7aa868" opacity="0.6"/>
<circle cx="137.1" cy="371.0" r="0.35" fill="#7aa868" opacity="0.6"/>
<circle cx="141.1" cy="411.7" r="0.35" fill="#7aa868" opacity="0.6"/>
<circle cx="130.3" cy="390.4" r="0.35" fill="#7aa868" opacity="0.6"/>
<circle cx="150.5" cy="374.9" r="0.35" fill="#7aa868" opacity="0.6"/>
<circle cx="137.2" cy="425.1" r="0.35" fill="#7aa868" opacity="0.6"/>
<circle cx="124.7" cy="404.3" r="0.35" fill="#7aa868" opacity="0.6"/>
<circle cx="150.0" cy="394.6" r="0.35" fill="#7aa868" opacity="0.6"/>
<circle cx="138.1" cy="406.8" r="0.35" fill="#7aa868" opacity="0.6"/>
<circle cx="124.8" cy="394.9" r="0.35" fill="#7aa868" opacity="0.6"/>
<circle cx="135.6" cy="405.9" r="0.35" fill="#7aa868" opacity="0.6"/>
<circle cx="132.7" cy="393.7" r="0.35" fill="#7aa868" opacity="0.6"/>
<circle cx="123.9" cy="391.7" r="0.35" fill="#7aa868" opacity="0.6"/>
<circle cx="141.0" cy="397.2" r="0.35" fill="#7aa868" opacity="0.6"/>
<circle cx="125.3" cy="385.9" r="0.35" fill="#7aa868" opacity="0.6"/>
<circle cx="157.0" cy="409.7" r="0.35" fill="#7aa868" opacity="0.6"/>
<circle cx="138.7" cy="364.9" r="0.35" fill="#7aa868" opacity="0.6"/>
<path d="M119.00,382.39 C119.90,382.39 123.90,386.35 123.90,388.00 C123.90,390.96 118.90,393.19 119.00,393.19" fill="none" stroke="#5fa048" stroke-width="0.55"/>
<path d="M119.00,381.74 C122.80,381.74 126.80,385.70 126.80,388.00 C126.80,390.96 121.80,393.98 119.00,393.98" fill="none" stroke="#5fa048" stroke-width="0.55"/>
<path d="M119.00,381.10 C125.70,381.10 129.70,385.06 129.70,388.00 C129.70,390.96 124.70,394.78 119.00,394.78" fill="none" stroke="#5fa048" stroke-width="0.55"/>
<path d="M119.00,380.45 C128.60,380.45 132.60,384.41 132.60,388.00 C132.60,390.96 127.60,395.57 119.00,395.57" fill="none" stroke="#5fa048" stroke-width="0.55"/>
<path d="M119.00,379.80 C131.50,379.80 135.50,383.76 135.50,388.00 C135.50,390.96 130.50,396.36 119.00,396.36" fill="rgba(120,180,90,0.15)" stroke="#5fa048" stroke-width="0.55"/>
<path d="M116.30,383.00 C120.20,383.00 122.80,386.12 122.80,391.58 C122.80,398.60 118.58,405.88 116.30,409.00 C114.02,405.88 109.80,398.60 109.80,391.58 C109.80,386.12 112.40,383.00 116.30,383.00 Z" fill="url(#tg)" stroke="none" stroke-width="0.45" opacity="1"/>
<path d="M116.20,377.00 C120.40,377.00 123.20,380.72 123.20,387.23 C123.20,395.60 118.65,404.28 116.20,408.00 C113.75,404.28 109.20,395.60 109.20,387.23 C109.20,380.72 112.00,377.00 116.20,377.00 Z" fill="none" stroke="#5e9e48" stroke-width="0.45" opacity="1"/>
<path d="M116.20,377.40 C120.20,377.40 122.87,380.79 122.87,386.73 C122.87,394.36 118.53,402.27 116.20,405.67 C113.87,402.27 109.53,394.36 109.53,386.73 C109.53,380.79 112.20,377.40 116.20,377.40 Z" fill="none" stroke="#5e9e48" stroke-width="0.45" opacity="1"/>
<path d="M116.20,377.80 C120.00,377.80 122.53,380.86 122.53,386.23 C122.53,393.12 118.42,400.27 116.20,403.33 C113.98,400.27 109.87,393.12 109.87,386.23 C109.87,380.86 112.40,377.80 116.20,377.80 Z" fill="none" stroke="#5e9e48" stroke-width="0.45" opacity="1"/>
<path d="M116.20,378.20 C119.80,378.20 122.20,380.94 122.20,385.72 C122.20,391.88 118.30,398.26 116.20,401.00 C114.10,398.26 110.20,391.88 110.20,385.72 C110.20,380.94 112.60,378.20 116.20,378.20 Z" fill="none" stroke="#5e9e48" stroke-width="0.45" opacity="1"/>
<ellipse cx="115.6" cy="387.3" rx="6.6" ry="10" fill="#4b8c36"/>
<ellipse cx="115.2" cy="386.5" rx="4.6" ry="7.6" fill="#3a7a28"/>
<rect x="121.5" y="374.8" width="31.900000000000006" height="45.0" fill="none" stroke="#6a6a6a" stroke-width="1.1"/>
<text transform="translate(138,418.9) scale(0.8734,1)" x="0" y="0" font-size="10" text-anchor="middle" font-weight="normal" fill="#111" stroke="#111" stroke-width="0.4">7.94</text>
<rect x="279.2" y="362.2" width="65.0" height="66.60000000000002" fill="none" stroke="#b0b0b0" stroke-width="0.8"/>
<line x1="279.2" y1="362.2" x2="279.2" y2="428.8" stroke="#555" stroke-width="0.9" />
<line x1="279.2" y1="428.8" x2="344.2" y2="428.8" stroke="#555" stroke-width="0.9" />
<line x1="278.0" y1="364.2" x2="279.2" y2="364.2" stroke="#444" stroke-width="0.6" />
<line x1="278.0" y1="368.37333333333333" x2="279.2" y2="368.37333333333333" stroke="#444" stroke-width="0.6" />
<line x1="278.0" y1="372.5466666666667" x2="279.2" y2="372.5466666666667" stroke="#444" stroke-width="0.6" />
<line x1="278.0" y1="376.71999999999997" x2="279.2" y2="376.71999999999997" stroke="#444" stroke-width="0.6" />
<line x1="278.0" y1="380.8933333333333" x2="279.2" y2="380.8933333333333" stroke="#444" stroke-width="0.6" />
<line x1="278.0" y1="385.06666666666666" x2="279.2" y2="385.06666666666666" stroke="#444" stroke-width="0.6" />
<line x1="278.0" y1="389.24" x2="279.2" y2="389.24" stroke="#444" stroke-width="0.6" />
<line x1="278.0" y1="393.41333333333336" x2="279.2" y2="393.41333333333336" stroke="#444" stroke-width="0.6" />
<line x1="278.0" y1="397.58666666666664" x2="279.2" y2="397.58666666666664" stroke="#444" stroke-width="0.6" />
<line x1="278.0" y1="401.76" x2="279.2" y2="401.76" stroke="#444" stroke-width="0.6" />
<line x1="278.0" y1="405.93333333333334" x2="279.2" y2="405.93333333333334" stroke="#444" stroke-width="0.6" />
<line x1="278.0" y1="410.1066666666667" x2="279.2" y2="410.1066666666667" stroke="#444" stroke-width="0.6" />
<line x1="278.0" y1="414.28000000000003" x2="279.2" y2="414.28000000000003" stroke="#444" stroke-width="0.6" />
<line x1="278.0" y1="418.4533333333333" x2="279.2" y2="418.4533333333333" stroke="#444" stroke-width="0.6" />
<line x1="278.0" y1="422.62666666666667" x2="279.2" y2="422.62666666666667" stroke="#444" stroke-width="0.6" />
<line x1="278.0" y1="426.8" x2="279.2" y2="426.8" stroke="#444" stroke-width="0.6" />
<line x1="281.2" y1="428.8" x2="281.2" y2="430.0" stroke="#444" stroke-width="0.6" />
<line x1="284.41052631578947" y1="428.8" x2="284.41052631578947" y2="430.0" stroke="#444" stroke-width="0.6" />
<line x1="287.62105263157895" y1="428.8" x2="287.62105263157895" y2="430.0" stroke="#444" stroke-width="0.6" />
<line x1="290.8315789473684" y1="428.8" x2="290.8315789473684" y2="430.0" stroke="#444" stroke-width="0.6" />
<line x1="294.0421052631579" y1="428.8" x2="294.0421052631579" y2="430.0" stroke="#444" stroke-width="0.6" />
<line x1="297.25263157894733" y1="428.8" x2="297.25263157894733" y2="430.0" stroke="#444" stroke-width="0.6" />
<line x1="300.4631578947368" y1="428.8" x2="300.4631578947368" y2="430.0" stroke="#444" stroke-width="0.6" />
<line x1="303.6736842105263" y1="428.8" x2="303.6736842105263" y2="430.0" stroke="#444" stroke-width="0.6" />
<line x1="306.88421052631577" y1="428.8" x2="306.88421052631577" y2="430.0" stroke="#444" stroke-width="0.6" />
<line x1="310.09473684210525" y1="428.8" x2="310.09473684210525" y2="430.0" stroke="#444" stroke-width="0.6" />
<line x1="313.30526315789473" y1="428.8" x2="313.30526315789473" y2="430.0" stroke="#444" stroke-width="0.6" />
<line x1="316.5157894736842" y1="428.8" x2="316.5157894736842" y2="430.0" stroke="#444" stroke-width="0.6" />
<line x1="319.7263157894737" y1="428.8" x2="319.7263157894737" y2="430.0" stroke="#444" stroke-width="0.6" />
<line x1="322.93684210526317" y1="428.8" x2="322.93684210526317" y2="430.0" stroke="#444" stroke-width="0.6" />
<line x1="326.14736842105265" y1="428.8" x2="326.14736842105265" y2="430.0" stroke="#444" stroke-width="0.6" />
<line x1="329.35789473684207" y1="428.8" x2="329.35789473684207" y2="430.0" stroke="#444" stroke-width="0.6" />
<line x1="332.56842105263155" y1="428.8" x2="332.56842105263155" y2="430.0" stroke="#444" stroke-width="0.6" />
<line x1="335.77894736842103" y1="428.8" x2="335.77894736842103" y2="430.0" stroke="#444" stroke-width="0.6" />
<line x1="338.9894736842105" y1="428.8" x2="338.9894736842105" y2="430.0" stroke="#444" stroke-width="0.6" />
<line x1="342.2" y1="428.8" x2="342.2" y2="430.0" stroke="#444" stroke-width="0.6" />
<line x1="277.59999999999997" y1="388.84" x2="279.5" y2="388.84" stroke="#222" stroke-width="1.2" />
<line x1="277.59999999999997" y1="416.812" x2="279.5" y2="416.812" stroke="#222" stroke-width="1.2" />
<line x1="277.8" y1="368.86" x2="279.5" y2="368.86" stroke="#333" stroke-width="1.0" />
<circle cx="298.9" cy="407.9" r="0.35" fill="#555" opacity="0.75"/>
<circle cx="302.1" cy="407.6" r="0.35" fill="#555" opacity="0.75"/>
<circle cx="296.8" cy="408.1" r="0.35" fill="#555" opacity="0.75"/>
<circle cx="291.2" cy="411.2" r="0.35" fill="#555" opacity="0.75"/>
<circle cx="298.0" cy="400.8" r="0.35" fill="#555" opacity="0.75"/>
<circle cx="301.0" cy="415.9" r="0.35" fill="#555" opacity="0.75"/>
<circle cx="292.8" cy="401.0" r="0.35" fill="#555" opacity="0.75"/>
<circle cx="297.9" cy="406.1" r="0.35" fill="#555" opacity="0.75"/>
<circle cx="295.8" cy="399.2" r="0.35" fill="#555" opacity="0.75"/>
<circle cx="303.4" cy="411.2" r="0.35" fill="#555" opacity="0.75"/>
<circle cx="293.4" cy="396.9" r="0.35" fill="#555" opacity="0.75"/>
<circle cx="302.1" cy="410.9" r="0.35" fill="#555" opacity="0.75"/>
<circle cx="302.5" cy="409.9" r="0.35" fill="#555" opacity="0.75"/>
<circle cx="294.4" cy="406.6" r="0.35" fill="#555" opacity="0.75"/>
<circle cx="290.5" cy="400.5" r="0.35" fill="#555" opacity="0.75"/>
<circle cx="296.8" cy="408.1" r="0.35" fill="#555" opacity="0.75"/>
<circle cx="294.8" cy="404.3" r="0.35" fill="#555" opacity="0.75"/>
<circle cx="298.4" cy="407.3" r="0.35" fill="#555" opacity="0.75"/>
<circle cx="298.9" cy="406.3" r="0.35" fill="#555" opacity="0.75"/>
<circle cx="296.0" cy="409.7" r="0.35" fill="#555" opacity="0.75"/>
<circle cx="297.1" cy="400.0" r="0.35" fill="#555" opacity="0.75"/>
<circle cx="295.1" cy="405.0" r="0.35" fill="#555" opacity="0.75"/>
<circle cx="296.7" cy="405.9" r="0.35" fill="#555" opacity="0.75"/>
<circle cx="297.0" cy="406.1" r="0.35" fill="#555" opacity="0.75"/>
<circle cx="296.6" cy="397.4" r="0.35" fill="#555" opacity="0.75"/>
<circle cx="298.3" cy="411.3" r="0.35" fill="#555" opacity="0.75"/>
<circle cx="298.3" cy="403.9" r="0.35" fill="#555" opacity="0.75"/>
<circle cx="298.3" cy="399.2" r="0.35" fill="#555" opacity="0.75"/>
<circle cx="291.3" cy="405.4" r="0.35" fill="#555" opacity="0.75"/>
<circle cx="294.2" cy="409.4" r="0.35" fill="#555" opacity="0.75"/>
<circle cx="293.7" cy="389.2" r="0.35" fill="#555" opacity="0.75"/>
<circle cx="293.9" cy="414.5" r="0.35" fill="#555" opacity="0.75"/>
<circle cx="295.9" cy="396.8" r="0.35" fill="#555" opacity="0.75"/>
<circle cx="294.7" cy="408.1" r="0.35" fill="#555" opacity="0.75"/>
<circle cx="298.5" cy="406.1" r="0.35" fill="#555" opacity="0.75"/>
<circle cx="301.5" cy="409.2" r="0.35" fill="#555" opacity="0.75"/>
<circle cx="296.9" cy="408.6" r="0.35" fill="#555" opacity="0.75"/>
<circle cx="302.0" cy="410.8" r="0.35" fill="#555" opacity="0.75"/>
<circle cx="300.1" cy="398.5" r="0.35" fill="#555" opacity="0.75"/>
<circle cx="296.6" cy="409.4" r="0.35" fill="#555" opacity="0.75"/>
<circle cx="296.1" cy="411.4" r="0.35" fill="#555" opacity="0.75"/>
<circle cx="298.8" cy="410.4" r="0.35" fill="#555" opacity="0.75"/>
<circle cx="296.4" cy="420.3" r="0.35" fill="#555" opacity="0.75"/>
<circle cx="300.7" cy="403.7" r="0.35" fill="#555" opacity="0.75"/>
<circle cx="297.3" cy="420.6" r="0.35" fill="#555" opacity="0.75"/>
<circle cx="314.6" cy="406.5" r="0.35" fill="#888" opacity="0.6"/>
<circle cx="327.8" cy="396.1" r="0.35" fill="#888" opacity="0.6"/>
<circle cx="306.3" cy="398.3" r="0.35" fill="#888" opacity="0.6"/>
<circle cx="321.6" cy="409.6" r="0.35" fill="#888" opacity="0.6"/>
<circle cx="325.8" cy="396.3" r="0.35" fill="#888" opacity="0.6"/>
<circle cx="326.5" cy="402.5" r="0.35" fill="#888" opacity="0.6"/>
<circle cx="320.1" cy="396.7" r="0.35" fill="#888" opacity="0.6"/>
<circle cx="315.6" cy="404.2" r="0.35" fill="#888" opacity="0.6"/>
<circle cx="307.5" cy="388.5" r="0.35" fill="#888" opacity="0.6"/>
<circle cx="318.0" cy="378.4" r="0.35" fill="#888" opacity="0.6"/>
<circle cx="313.6" cy="371.9" r="0.35" fill="#888" opacity="0.6"/>
<circle cx="311.2" cy="402.8" r="0.35" fill="#888" opacity="0.6"/>
<circle cx="323.7" cy="395.3" r="0.35" fill="#888" opacity="0.6"/>
<circle cx="315.7" cy="379.0" r="0.35" fill="#888" opacity="0.6"/>
<circle cx="336.3" cy="402.2" r="0.35" fill="#888" opacity="0.6"/>
<circle cx="328.9" cy="385.4" r="0.35" fill="#888" opacity="0.6"/>
<circle cx="316.1" cy="374.2" r="0.35" fill="#888" opacity="0.6"/>
<circle cx="325.8" cy="407.2" r="0.35" fill="#888" opacity="0.6"/>
<circle cx="299.0" cy="395.4" r="0.35" fill="#888" opacity="0.6"/>
<circle cx="324.3" cy="374.9" r="0.35" fill="#888" opacity="0.6"/>
<circle cx="299.7" cy="383.2" r="0.35" fill="#888" opacity="0.6"/>
<circle cx="311.7" cy="379.2" r="0.35" fill="#888" opacity="0.6"/>
<circle cx="318.3" cy="399.0" r="0.35" fill="#888" opacity="0.6"/>
<circle cx="324.3" cy="404.4" r="0.35" fill="#888" opacity="0.6"/>
<circle cx="333.0" cy="410.0" r="0.35" fill="#888" opacity="0.6"/>
<circle cx="304.9" cy="389.9" r="0.35" fill="#888" opacity="0.6"/>
<circle cx="307.4" cy="383.1" r="0.35" fill="#888" opacity="0.6"/>
<circle cx="317.2" cy="396.1" r="0.35" fill="#888" opacity="0.6"/>
<circle cx="322.9" cy="377.0" r="0.35" fill="#888" opacity="0.6"/>
<circle cx="305.6" cy="395.7" r="0.35" fill="#888" opacity="0.6"/>
<circle cx="316.0" cy="392.3" r="0.35" fill="#888" opacity="0.6"/>
<circle cx="317.4" cy="386.9" r="0.35" fill="#888" opacity="0.6"/>
<circle cx="325.0" cy="400.3" r="0.35" fill="#888" opacity="0.6"/>
<circle cx="317.1" cy="387.9" r="0.35" fill="#888" opacity="0.6"/>
<circle cx="316.3" cy="363.3" r="0.35" fill="#888" opacity="0.6"/>
<path d="M300,383.80 C307.75,384.90 313.50,388.20 315.50,389.60 C313.50,391.50 307.75,394.25 300,395.35" fill="rgba(80,80,80,0.25)" stroke="none" stroke-width="0"/>
<path d="M300,383.80 C307.75,384.90 313.50,388.20 315.50,389.60 C313.50,391.50 307.75,394.25 300,395.35" fill="none" stroke="#333" stroke-width="0.55"/>
<path d="M300,385.50 C306.00,386.26 310.00,388.54 312.00,389.60 C310.00,390.82 306.00,392.72 300,393.48" fill="none" stroke="#444" stroke-width="0.5"/>
<path d="M300,387.00 C304.25,387.50 306.50,389.00 308.50,389.80 C306.50,390.50 304.25,391.75 300,392.25" fill="none" stroke="#555" stroke-width="0.45"/>
<path d="M296.50,382.00 C299.98,382.00 302.30,385.48 302.30,391.57 C302.30,399.40 298.53,407.52 296.50,411.00 C294.47,407.52 290.70,399.40 290.70,391.57 C290.70,385.48 293.02,382.00 296.50,382.00 Z" fill="url(#tk)" stroke="none" stroke-width="0.45" opacity="1"/>
<path d="M296.30,377.00 C299.96,377.00 302.40,380.60 302.40,386.90 C302.40,395.00 298.44,403.40 296.30,407.00 C294.17,403.40 290.20,395.00 290.20,386.90 C290.20,380.60 292.64,377.00 296.30,377.00 Z" fill="none" stroke="#555" stroke-width="0.45" opacity="1"/>
<path d="M296.30,377.50 C299.78,377.50 302.10,380.56 302.10,385.92 C302.10,392.80 298.33,399.94 296.30,403.00 C294.27,399.94 290.50,392.80 290.50,385.92 C290.50,380.56 292.82,377.50 296.30,377.50 Z" fill="none" stroke="#333" stroke-width="0.45" opacity="1"/>
<path d="M296.30,378.00 C299.60,378.00 301.80,380.64 301.80,385.26 C301.80,391.20 298.23,397.36 296.30,400.00 C294.38,397.36 290.80,391.20 290.80,385.26 C290.80,380.64 293.00,378.00 296.30,378.00 Z" fill="none" stroke="#222" stroke-width="0.45" opacity="1"/>
<ellipse cx="296" cy="387.8" rx="5.4" ry="10.2" fill="#0a0a0a" transform="rotate(4 296 387.8)"/>
<rect x="301.5" y="371.7" width="39.80000000000001" height="48.60000000000002" fill="none" stroke="#6a6a6a" stroke-width="1.1"/>
<text transform="translate(319.3,416.6) scale(0.8940,1)" x="0" y="0" font-size="10" text-anchor="middle" font-weight="normal" fill="#111" stroke="#111" stroke-width="0.4">4.31</text>
<rect x="349" y="362.4" width="64.39999999999998" height="66.40000000000003" fill="none" stroke="#b0b0b0" stroke-width="0.8"/>
<line x1="349" y1="362.4" x2="349" y2="428.8" stroke="#555" stroke-width="0.9" />
<line x1="349" y1="428.8" x2="413.4" y2="428.8" stroke="#555" stroke-width="0.9" />
<line x1="347.8" y1="364.4" x2="349" y2="364.4" stroke="#444" stroke-width="0.6" />
<line x1="347.8" y1="368.56" x2="349" y2="368.56" stroke="#444" stroke-width="0.6" />
<line x1="347.8" y1="372.71999999999997" x2="349" y2="372.71999999999997" stroke="#444" stroke-width="0.6" />
<line x1="347.8" y1="376.88" x2="349" y2="376.88" stroke="#444" stroke-width="0.6" />
<line x1="347.8" y1="381.03999999999996" x2="349" y2="381.03999999999996" stroke="#444" stroke-width="0.6" />
<line x1="347.8" y1="385.2" x2="349" y2="385.2" stroke="#444" stroke-width="0.6" />
<line x1="347.8" y1="389.36" x2="349" y2="389.36" stroke="#444" stroke-width="0.6" />
<line x1="347.8" y1="393.52" x2="349" y2="393.52" stroke="#444" stroke-width="0.6" />
<line x1="347.8" y1="397.68" x2="349" y2="397.68" stroke="#444" stroke-width="0.6" />
<line x1="347.8" y1="401.84000000000003" x2="349" y2="401.84000000000003" stroke="#444" stroke-width="0.6" />
<line x1="347.8" y1="406.0" x2="349" y2="406.0" stroke="#444" stroke-width="0.6" />
<line x1="347.8" y1="410.15999999999997" x2="349" y2="410.15999999999997" stroke="#444" stroke-width="0.6" />
<line x1="347.8" y1="414.32" x2="349" y2="414.32" stroke="#444" stroke-width="0.6" />
<line x1="347.8" y1="418.48" x2="349" y2="418.48" stroke="#444" stroke-width="0.6" />
<line x1="347.8" y1="422.64" x2="349" y2="422.64" stroke="#444" stroke-width="0.6" />
<line x1="347.8" y1="426.8" x2="349" y2="426.8" stroke="#444" stroke-width="0.6" />
<line x1="351.0" y1="428.8" x2="351.0" y2="430.0" stroke="#444" stroke-width="0.6" />
<line x1="354.17894736842106" y1="428.8" x2="354.17894736842106" y2="430.0" stroke="#444" stroke-width="0.6" />
<line x1="357.3578947368421" y1="428.8" x2="357.3578947368421" y2="430.0" stroke="#444" stroke-width="0.6" />
<line x1="360.53684210526313" y1="428.8" x2="360.53684210526313" y2="430.0" stroke="#444" stroke-width="0.6" />
<line x1="363.7157894736842" y1="428.8" x2="363.7157894736842" y2="430.0" stroke="#444" stroke-width="0.6" />
<line x1="366.89473684210526" y1="428.8" x2="366.89473684210526" y2="430.0" stroke="#444" stroke-width="0.6" />
<line x1="370.0736842105263" y1="428.8" x2="370.0736842105263" y2="430.0" stroke="#444" stroke-width="0.6" />
<line x1="373.25263157894733" y1="428.8" x2="373.25263157894733" y2="430.0" stroke="#444" stroke-width="0.6" />
<line x1="376.4315789473684" y1="428.8" x2="376.4315789473684" y2="430.0" stroke="#444" stroke-width="0.6" />
<line x1="379.61052631578946" y1="428.8" x2="379.61052631578946" y2="430.0" stroke="#444" stroke-width="0.6" />
<line x1="382.7894736842105" y1="428.8" x2="382.7894736842105" y2="430.0" stroke="#444" stroke-width="0.6" />
<line x1="385.9684210526316" y1="428.8" x2="385.9684210526316" y2="430.0" stroke="#444" stroke-width="0.6" />
<line x1="389.14736842105265" y1="428.8" x2="389.14736842105265" y2="430.0" stroke="#444" stroke-width="0.6" />
<line x1="392.32631578947365" y1="428.8" x2="392.32631578947365" y2="430.0" stroke="#444" stroke-width="0.6" />
<line x1="395.5052631578947" y1="428.8" x2="395.5052631578947" y2="430.0" stroke="#444" stroke-width="0.6" />
<line x1="398.6842105263158" y1="428.8" x2="398.6842105263158" y2="430.0" stroke="#444" stroke-width="0.6" />
<line x1="401.86315789473684" y1="428.8" x2="401.86315789473684" y2="430.0" stroke="#444" stroke-width="0.6" />
<line x1="405.04210526315785" y1="428.8" x2="405.04210526315785" y2="430.0" stroke="#444" stroke-width="0.6" />
<line x1="408.2210526315789" y1="428.8" x2="408.2210526315789" y2="430.0" stroke="#444" stroke-width="0.6" />
<line x1="411.4" y1="428.8" x2="411.4" y2="430.0" stroke="#444" stroke-width="0.6" />
<line x1="347.4" y1="388.96" x2="349.3" y2="388.96" stroke="#222" stroke-width="1.2" />
<line x1="347.4" y1="416.848" x2="349.3" y2="416.848" stroke="#222" stroke-width="1.2" />
<line x1="347.6" y1="369.03999999999996" x2="349.3" y2="369.03999999999996" stroke="#333" stroke-width="1.0" />
<circle cx="362.6" cy="404.2" r="0.35" fill="#4a8a38" opacity="0.75"/>
<circle cx="360.7" cy="405.2" r="0.35" fill="#4a8a38" opacity="0.75"/>
<circle cx="366.5" cy="395.7" r="0.35" fill="#4a8a38" opacity="0.75"/>
<circle cx="365.1" cy="402.1" r="0.35" fill="#4a8a38" opacity="0.75"/>
<circle cx="367.6" cy="407.7" r="0.35" fill="#4a8a38" opacity="0.75"/>
<circle cx="365.9" cy="398.9" r="0.35" fill="#4a8a38" opacity="0.75"/>
<circle cx="365.5" cy="403.6" r="0.35" fill="#4a8a38" opacity="0.75"/>
<circle cx="368.6" cy="405.8" r="0.35" fill="#4a8a38" opacity="0.75"/>
<circle cx="363.5" cy="395.9" r="0.35" fill="#4a8a38" opacity="0.75"/>
<circle cx="364.7" cy="399.6" r="0.35" fill="#4a8a38" opacity="0.75"/>
<circle cx="362.1" cy="403.3" r="0.35" fill="#4a8a38" opacity="0.75"/>
<circle cx="364.3" cy="404.6" r="0.35" fill="#4a8a38" opacity="0.75"/>
<circle cx="367.8" cy="401.5" r="0.35" fill="#4a8a38" opacity="0.75"/>
<circle cx="374.1" cy="402.1" r="0.35" fill="#4a8a38" opacity="0.75"/>
<circle cx="369.9" cy="404.7" r="0.35" fill="#4a8a38" opacity="0.75"/>
<circle cx="369.9" cy="389.7" r="0.35" fill="#4a8a38" opacity="0.75"/>
<circle cx="363.4" cy="405.5" r="0.35" fill="#4a8a38" opacity="0.75"/>
<circle cx="368.1" cy="418.0" r="0.35" fill="#4a8a38" opacity="0.75"/>
<circle cx="367.1" cy="411.7" r="0.35" fill="#4a8a38" opacity="0.75"/>
<circle cx="368.7" cy="409.7" r="0.35" fill="#4a8a38" opacity="0.75"/>
<circle cx="367.8" cy="403.1" r="0.35" fill="#4a8a38" opacity="0.75"/>
<circle cx="367.8" cy="397.5" r="0.35" fill="#4a8a38" opacity="0.75"/>
<circle cx="370.1" cy="397.9" r="0.35" fill="#4a8a38" opacity="0.75"/>
<circle cx="366.9" cy="416.7" r="0.35" fill="#4a8a38" opacity="0.75"/>
<circle cx="365.2" cy="404.1" r="0.35" fill="#4a8a38" opacity="0.75"/>
<circle cx="370.1" cy="404.2" r="0.35" fill="#4a8a38" opacity="0.75"/>
<circle cx="363.2" cy="405.5" r="0.35" fill="#4a8a38" opacity="0.75"/>
<circle cx="368.0" cy="408.3" r="0.35" fill="#4a8a38" opacity="0.75"/>
<circle cx="363.3" cy="414.5" r="0.35" fill="#4a8a38" opacity="0.75"/>
<circle cx="371.8" cy="404.1" r="0.35" fill="#4a8a38" opacity="0.75"/>
<circle cx="366.9" cy="401.4" r="0.35" fill="#4a8a38" opacity="0.75"/>
<circle cx="370.9" cy="399.8" r="0.35" fill="#4a8a38" opacity="0.75"/>
<circle cx="368.4" cy="401.1" r="0.35" fill="#4a8a38" opacity="0.75"/>
<circle cx="363.6" cy="408.3" r="0.35" fill="#4a8a38" opacity="0.75"/>
<circle cx="370.7" cy="403.9" r="0.35" fill="#4a8a38" opacity="0.75"/>
<circle cx="363.6" cy="408.9" r="0.35" fill="#4a8a38" opacity="0.75"/>
<circle cx="365.8" cy="405.9" r="0.35" fill="#4a8a38" opacity="0.75"/>
<circle cx="371.3" cy="410.8" r="0.35" fill="#4a8a38" opacity="0.75"/>
<circle cx="364.2" cy="417.7" r="0.35" fill="#4a8a38" opacity="0.75"/>
<circle cx="366.0" cy="408.7" r="0.35" fill="#4a8a38" opacity="0.75"/>
<circle cx="380.5" cy="397.5" r="0.35" fill="#7aa868" opacity="0.6"/>
<circle cx="369.5" cy="419.4" r="0.35" fill="#7aa868" opacity="0.6"/>
<circle cx="400.7" cy="383.4" r="0.35" fill="#7aa868" opacity="0.6"/>
<circle cx="371.9" cy="378.5" r="0.35" fill="#7aa868" opacity="0.6"/>
<circle cx="398.8" cy="392.5" r="0.35" fill="#7aa868" opacity="0.6"/>
<circle cx="386.4" cy="394.2" r="0.35" fill="#7aa868" opacity="0.6"/>
<circle cx="385.8" cy="384.9" r="0.35" fill="#7aa868" opacity="0.6"/>
<circle cx="387.2" cy="380.7" r="0.35" fill="#7aa868" opacity="0.6"/>
<circle cx="386.3" cy="401.7" r="0.35" fill="#7aa868" opacity="0.6"/>
<circle cx="391.7" cy="395.2" r="0.35" fill="#7aa868" opacity="0.6"/>
<circle cx="378.0" cy="399.9" r="0.35" fill="#7aa868" opacity="0.6"/>
<circle cx="382.2" cy="416.8" r="0.35" fill="#7aa868" opacity="0.6"/>
<circle cx="394.7" cy="396.6" r="0.35" fill="#7aa868" opacity="0.6"/>
<circle cx="382.3" cy="389.6" r="0.35" fill="#7aa868" opacity="0.6"/>
<circle cx="377.6" cy="393.8" r="0.35" fill="#7aa868" opacity="0.6"/>
<circle cx="389.9" cy="404.2" r="0.35" fill="#7aa868" opacity="0.6"/>
<circle cx="392.7" cy="423.2" r="0.35" fill="#7aa868" opacity="0.6"/>
<circle cx="380.0" cy="398.2" r="0.35" fill="#7aa868" opacity="0.6"/>
<circle cx="414.9" cy="375.6" r="0.35" fill="#7aa868" opacity="0.6"/>
<circle cx="381.8" cy="400.0" r="0.35" fill="#7aa868" opacity="0.6"/>
<circle cx="388.5" cy="402.9" r="0.35" fill="#7aa868" opacity="0.6"/>
<circle cx="384.6" cy="402.4" r="0.35" fill="#7aa868" opacity="0.6"/>
<circle cx="387.5" cy="407.3" r="0.35" fill="#7aa868" opacity="0.6"/>
<circle cx="368.1" cy="387.4" r="0.35" fill="#7aa868" opacity="0.6"/>
<circle cx="387.0" cy="385.6" r="0.35" fill="#7aa868" opacity="0.6"/>
<circle cx="376.6" cy="405.5" r="0.35" fill="#7aa868" opacity="0.6"/>
<circle cx="380.5" cy="405.6" r="0.35" fill="#7aa868" opacity="0.6"/>
<circle cx="394.5" cy="401.7" r="0.35" fill="#7aa868" opacity="0.6"/>
<circle cx="392.1" cy="396.7" r="0.35" fill="#7aa868" opacity="0.6"/>
<circle cx="372.9" cy="397.6" r="0.35" fill="#7aa868" opacity="0.6"/>
<path d="M368.00,384.56 C369.33,384.56 373.33,389.79 373.33,391.50 C373.33,395.73 368.33,398.50 368.00,398.50" fill="none" stroke="#5fa048" stroke-width="0.55"/>
<path d="M368.00,383.85 C372.67,383.85 376.67,389.07 376.67,391.50 C376.67,395.73 371.67,399.37 368.00,399.37" fill="none" stroke="#5fa048" stroke-width="0.55"/>
<path d="M368.00,383.14 C376.00,383.14 380.00,388.36 380.00,391.50 C380.00,395.73 375.00,400.24 368.00,400.24" fill="none" stroke="#5fa048" stroke-width="0.55"/>
<path d="M368.00,382.43 C379.33,382.43 383.33,387.65 383.33,391.50 C383.33,395.73 378.33,401.11 368.00,401.11" fill="none" stroke="#5fa048" stroke-width="0.55"/>
<path d="M368.00,381.71 C382.67,381.71 386.67,386.94 386.67,391.50 C386.67,395.73 381.67,401.98 368.00,401.98" fill="none" stroke="#5fa048" stroke-width="0.55"/>
<path d="M368.00,381.00 C386.00,381.00 390.00,386.23 390.00,391.50 C390.00,395.73 385.00,402.85 368.00,402.85" fill="rgba(120,180,90,0.15)" stroke="#5fa048" stroke-width="0.55"/>
<path d="M365.50,384.00 C369.40,384.00 372.00,386.76 372.00,391.59 C372.00,397.80 367.77,404.24 365.50,407.00 C363.23,404.24 359.00,397.80 359.00,391.59 C359.00,386.76 361.60,384.00 365.50,384.00 Z" fill="url(#tg)" stroke="none" stroke-width="0.45" opacity="1"/>
<path d="M365.50,376.50 C369.58,376.50 372.30,380.10 372.30,386.40 C372.30,394.50 367.88,402.90 365.50,406.50 C363.12,402.90 358.70,394.50 358.70,386.40 C358.70,380.10 361.42,376.50 365.50,376.50 Z" fill="none" stroke="#5e9e48" stroke-width="0.45" opacity="1"/>
<path d="M365.50,376.90 C369.38,376.90 371.97,380.21 371.97,386.01 C371.97,393.46 367.76,401.19 365.50,404.50 C363.24,401.19 359.03,393.46 359.03,386.01 C359.03,380.21 361.62,376.90 365.50,376.90 Z" fill="none" stroke="#5e9e48" stroke-width="0.45" opacity="1"/>
<path d="M365.50,377.30 C369.18,377.30 371.63,380.32 371.63,385.62 C371.63,392.42 367.65,399.48 365.50,402.50 C363.35,399.48 359.37,392.42 359.37,385.62 C359.37,380.32 361.82,377.30 365.50,377.30 Z" fill="none" stroke="#5e9e48" stroke-width="0.45" opacity="1"/>
<path d="M365.50,377.70 C368.98,377.70 371.30,380.44 371.30,385.22 C371.30,391.38 367.53,397.76 365.50,400.50 C363.47,397.76 359.70,391.38 359.70,385.22 C359.70,380.44 362.02,377.70 365.50,377.70 Z" fill="none" stroke="#5e9e48" stroke-width="0.45" opacity="1"/>
<ellipse cx="364.9" cy="389" rx="6.6" ry="12" fill="#4b8c36"/>
<ellipse cx="364.4" cy="387" rx="4.8" ry="8.5" fill="#3a7a28"/>
<rect x="371.5" y="371.8" width="39.10000000000002" height="48.5" fill="none" stroke="#6a6a6a" stroke-width="1.1"/>
<text transform="translate(393.2,415.6) scale(0.8889,1)" x="0" y="0" font-size="10" text-anchor="middle" font-weight="normal" fill="#111" stroke="#111" stroke-width="0.4">14.4</text>
<text transform="translate(50,356.2) scale(1.0467,1)" x="0" y="0" font-size="10" text-anchor="middle" font-weight="normal" fill="#231f20"  stroke="#231f20" stroke-width="0.22">ML NK</text>
<text transform="translate(119.6,356.2) scale(0.9907,1)" x="0" y="0" font-size="10" text-anchor="middle" font-weight="normal" fill="#231f20"  stroke="#231f20" stroke-width="0.22">19-CAR-ML</text>
<text transform="translate(310.6,355.8) scale(1.0301,1)" x="0" y="0" font-size="10" text-anchor="middle" font-weight="normal" fill="#231f20"  stroke="#231f20" stroke-width="0.22">ML NK</text>
<text transform="translate(380.8,356.2) scale(0.9926,1)" x="0" y="0" font-size="10" text-anchor="middle" font-weight="normal" fill="#231f20"  stroke="#231f20" stroke-width="0.22">19-CAR-ML</text>
<text transform="translate(21.9,441.8) scale(0.7611,1)" x="0" y="0" font-size="10" text-anchor="start" font-weight="normal" fill="#231f20"  stroke="#231f20" stroke-width="0.22">IFN-γ</text>
<line x1="45" y1="438.8" x2="149.0" y2="438.8" stroke="#222" stroke-width="1.3" />
<path d="M154.50,438.80 L148.50,441.10 L149.70,438.80 L148.50,436.50 Z" fill="#222"/>
<text transform="translate(277.9,441.6) scale(0.7877,1)" x="0" y="0" font-size="10" text-anchor="start" font-weight="normal" fill="#231f20"  stroke="#231f20" stroke-width="0.22">CD107a</text>
<line x1="312.6" y1="438.8" x2="407.5" y2="438.8" stroke="#222" stroke-width="1.3" />
<path d="M413.00,438.80 L407.00,441.10 L408.20,438.80 L407.00,436.50 Z" fill="#222"/>
<text transform="translate(15.5,414.85) rotate(-90) scale(0.8096,1)" x="0" y="0" font-size="10" text-anchor="middle" fill="#231f20" stroke="#231f20" stroke-width="0.22">CD56</text>
<text transform="translate(274.6,414.75) rotate(-90) scale(0.7783,1)" x="0" y="0" font-size="10" text-anchor="middle" fill="#231f20" stroke="#231f20" stroke-width="0.22">CD56</text>
<line x1="201.9" y1="350.8" x2="201.9" y2="431.3" stroke="#231f20" stroke-width="1.35" />
<line x1="198.9" y1="353.5" x2="201.9" y2="353.5" stroke="#231f20" stroke-width="1.35" />
<text transform="translate(195.70000000000002,356.3) scale(0.9090,1)" x="0" y="0" font-size="9" text-anchor="end" font-weight="normal" fill="#231f20"  stroke="#231f20" stroke-width="0.22">15</text>
<line x1="198.9" y1="379.3" x2="201.9" y2="379.3" stroke="#231f20" stroke-width="1.35" />
<text transform="translate(195.70000000000002,382.1) scale(0.9090,1)" x="0" y="0" font-size="9" text-anchor="end" font-weight="normal" fill="#231f20"  stroke="#231f20" stroke-width="0.22">10</text>
<line x1="198.9" y1="405.4" x2="201.9" y2="405.4" stroke="#231f20" stroke-width="1.35" />
<text transform="translate(195.70000000000002,408.2) scale(0.9090,1)" x="0" y="0" font-size="9" text-anchor="end" font-weight="normal" fill="#231f20"  stroke="#231f20" stroke-width="0.22">5</text>
<line x1="198.9" y1="430.7" x2="201.9" y2="430.7" stroke="#231f20" stroke-width="1.35" />
<text transform="translate(195.70000000000002,433.5) scale(0.9090,1)" x="0" y="0" font-size="9" text-anchor="end" font-weight="normal" fill="#231f20"  stroke="#231f20" stroke-width="0.22">0</text>
<line x1="201.3" y1="430.7" x2="252.8" y2="430.7" stroke="#231f20" stroke-width="1.35" />
<line x1="216.4" y1="430.7" x2="216.4" y2="433.7" stroke="#231f20" stroke-width="1.35" />
<line x1="237.8" y1="430.7" x2="237.8" y2="433.7" stroke="#231f20" stroke-width="1.35" />
<text x="216.3" y="445.5" font-size="8.5" text-anchor="middle" font-weight="normal" fill="#231f20"  stroke="#231f20" stroke-width="0.22">-</text>
<text x="237.5" y="445.5" font-size="8.5" text-anchor="middle" font-weight="normal" fill="#231f20"  stroke="#231f20" stroke-width="0.22">+</text>
<text transform="translate(226.9,456.9) scale(0.7169,1)" x="0" y="0" font-size="10" text-anchor="middle" font-weight="normal" fill="#231f20"  stroke="#231f20" stroke-width="0.22">19-CAR</text>
<text transform="translate(180,390.5) rotate(-90) scale(0.8649,1)" x="0" y="0" font-size="9" text-anchor="middle" fill="#231f20" stroke="#231f20" stroke-width="0.22">Percent IFN-γ-positive</text>
<path d="M223.50,345.40 L223.50,349.00 M221.94,346.30 L225.06,348.10 M225.06,346.30 L221.94,348.10 " stroke="#231f20" stroke-width="0.95" fill="none"/>
<line x1="216.4" y1="416.7" x2="237.8" y2="361" stroke="#111" stroke-width="1.1" />
<line x1="216.4" y1="422.1" x2="237.8" y2="390" stroke="#111" stroke-width="1.1" />
<line x1="216.4" y1="426" x2="237.8" y2="390" stroke="#111" stroke-width="1.1" />
<circle cx="216.40" cy="416.90" r="3.1" fill="#e58e1e" stroke="none" stroke-width="0" opacity="1"/>
<circle cx="216.40" cy="421.70" r="3.1" fill="#e58e1e" stroke="none" stroke-width="0" opacity="1"/>
<circle cx="216.40" cy="426.20" r="3.1" fill="#e58e1e" stroke="none" stroke-width="0" opacity="1"/>
<path d="M234.20,364.74 L237.80,358.26 L241.40,364.74 Z" fill="#62a83c"/>
<path d="M234.20,393.24 L237.80,386.76 L241.40,393.24 Z" fill="#62a83c"/>
<line x1="461.2" y1="353.8" x2="461.2" y2="431.3" stroke="#231f20" stroke-width="1.35" />
<line x1="458.2" y1="366.4" x2="461.2" y2="366.4" stroke="#231f20" stroke-width="1.35" />
<text transform="translate(455.0,369.2) scale(0.9090,1)" x="0" y="0" font-size="9" text-anchor="end" font-weight="normal" fill="#231f20"  stroke="#231f20" stroke-width="0.22">10</text>
<line x1="458.2" y1="398.6" x2="461.2" y2="398.6" stroke="#231f20" stroke-width="1.35" />
<text transform="translate(455.0,401.40000000000003) scale(0.9090,1)" x="0" y="0" font-size="9" text-anchor="end" font-weight="normal" fill="#231f20"  stroke="#231f20" stroke-width="0.22">5</text>
<line x1="458.2" y1="430.7" x2="461.2" y2="430.7" stroke="#231f20" stroke-width="1.35" />
<text transform="translate(455.0,433.5) scale(0.9090,1)" x="0" y="0" font-size="9" text-anchor="end" font-weight="normal" fill="#231f20"  stroke="#231f20" stroke-width="0.22">0</text>
<line x1="460.59999999999997" y1="430.7" x2="510.3" y2="430.7" stroke="#231f20" stroke-width="1.35" />
<line x1="475.4" y1="430.7" x2="475.4" y2="433.7" stroke="#231f20" stroke-width="1.35" />
<line x1="496.8" y1="430.7" x2="496.8" y2="433.7" stroke="#231f20" stroke-width="1.35" />
<text x="475.3" y="445.5" font-size="8.5" text-anchor="middle" font-weight="normal" fill="#231f20"  stroke="#231f20" stroke-width="0.22">-</text>
<text x="496.5" y="445.5" font-size="8.5" text-anchor="middle" font-weight="normal" fill="#231f20"  stroke="#231f20" stroke-width="0.22">+</text>
<text transform="translate(485.4,456.9) scale(0.7647,1)" x="0" y="0" font-size="10" text-anchor="middle" font-weight="normal" fill="#231f20"  stroke="#231f20" stroke-width="0.22">19-CAR</text>
<text transform="translate(439.5,390.1) rotate(-90) scale(0.8795,1)" x="0" y="0" font-size="9" text-anchor="middle" fill="#231f20" stroke="#231f20" stroke-width="0.22">Percent CD107a-positive</text>
<path d="M483.05,352.80 L483.05,356.40 M481.49,353.70 L484.61,355.50 M484.61,353.70 L481.49,355.50 " stroke="#231f20" stroke-width="0.95" fill="none"/>
<path d="M486.50,352.80 L486.50,356.40 M484.94,353.70 L488.06,355.50 M488.06,353.70 L484.94,355.50 " stroke="#231f20" stroke-width="0.95" fill="none"/>
<path d="M489.95,352.80 L489.95,356.40 M488.39,353.70 L491.51,355.50 M491.51,353.70 L488.39,355.50 " stroke="#231f20" stroke-width="0.95" fill="none"/>
<line x1="475.4" y1="405.4" x2="496.8" y2="366.4" stroke="#111" stroke-width="1.3" />
<line x1="475.4" y1="407.5" x2="496.8" y2="369" stroke="#111" stroke-width="1.3" />
<line x1="475.4" y1="414.6" x2="496.8" y2="377.1" stroke="#111" stroke-width="1.3" />
<circle cx="475.40" cy="405.40" r="3.1" fill="#e58e1e" stroke="none" stroke-width="0" opacity="1"/>
<circle cx="475.40" cy="407.50" r="3.1" fill="#e58e1e" stroke="none" stroke-width="0" opacity="1"/>
<circle cx="475.40" cy="414.60" r="3.1" fill="#e58e1e" stroke="none" stroke-width="0" opacity="1"/>
<path d="M493.20,369.64 L496.80,363.16 L500.40,369.64 Z" fill="#62a83c"/>
<path d="M493.20,372.24 L496.80,365.76 L500.40,372.24 Z" fill="#62a83c"/>
<path d="M493.20,380.34 L496.80,373.86 L500.40,380.34 Z" fill="#62a83c"/>
</svg>
</body></html>
